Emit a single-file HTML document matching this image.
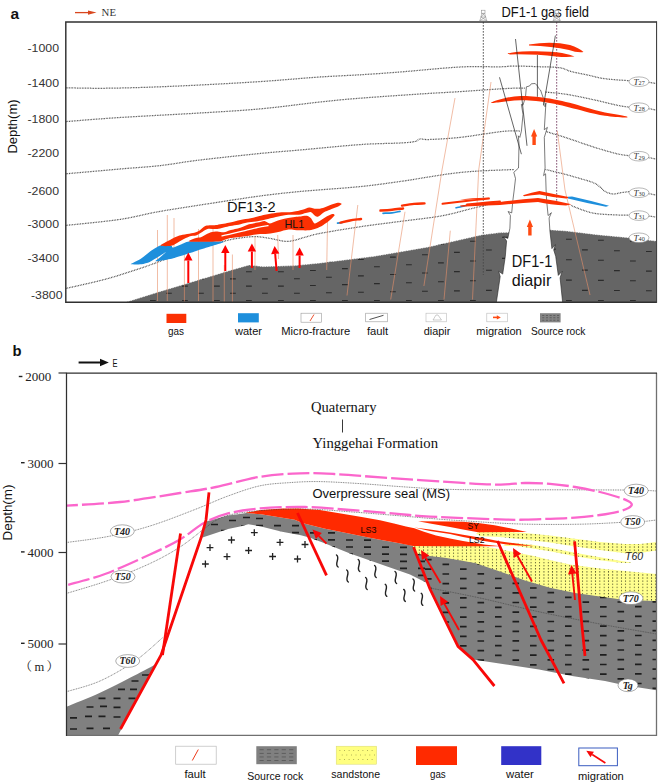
<!DOCTYPE html>
<html lang="en"><head><meta charset="utf-8"><title>Gas migration and accumulation models</title>
<style>
html,body{margin:0;padding:0;background:#fff;}
body{width:667px;height:784px;overflow:hidden;font-family:"Liberation Sans",sans-serif;}
svg{display:block;}
.sans{font-family:"Liberation Sans",sans-serif;}
.serif{font-family:"Liberation Serif",serif;}
</style></head><body>
<svg width="667" height="784" viewBox="0 0 667 784">
<defs>
<pattern id="pa" width="32" height="15" patternUnits="userSpaceOnUse" patternTransform="rotate(-4)">
<rect width="32" height="15" fill="#686868"/>
<rect x="3" y="3" width="6" height="1.2" fill="#2e2e2e"/>
<rect x="19" y="10.5" width="6" height="1.2" fill="#2e2e2e"/>
</pattern>
<pattern id="pb" width="19" height="15" patternUnits="userSpaceOnUse" patternTransform="rotate(6)">
<rect width="19" height="15" fill="#808080"/>
<rect x="2" y="3" width="7.5" height="1.5" fill="#222"/>
<rect x="11.5" y="10.5" width="7.5" height="1.5" fill="#222"/>
</pattern>
<pattern id="py" width="4.3" height="3.1" patternUnits="userSpaceOnUse">
<rect width="4.3" height="3.1" fill="#ffff8e"/>
<rect x="1.7" y="0.8" width="0.9" height="1.3" fill="#4a4a26"/>
</pattern>
<clipPath id="ca"><rect x="66" y="22" width="590" height="280"/></clipPath>
<clipPath id="cb"><rect x="66.5" y="373" width="590" height="362"/></clipPath>
</defs>
<rect width="667" height="784" fill="#fff"/>

<g id="panelA" clip-path="url(#ca)">
<clipPath id="cga"><path d="M126.3,302.0 L160.0,291.5 L200.0,279.5 L228.0,271.0 L249.0,265.0 L263.0,266.6 L294.5,265.6 L320.0,263.0 L374.0,256.3 L428.0,247.0 L482.0,234.8 L500.0,232.6 L512.0,232.3 L512.0,302.0Z"/><path d="M546.0,229.5 L567.0,231.0 L597.6,234.7 L630.0,237.8 L656.0,241.0 L656.0,302.0 L546.0,302.0Z"/></clipPath>
<path d="M126.3,302.0 L160.0,291.5 L200.0,279.5 L228.0,271.0 L249.0,265.0 L263.0,266.6 L294.5,265.6 L320.0,263.0 L374.0,256.3 L428.0,247.0 L482.0,234.8 L500.0,232.6 L512.0,232.3 L512.0,302.0Z" fill="#656565"/><path d="M546.0,229.5 L567.0,231.0 L597.6,234.7 L630.0,237.8 L656.0,241.0 L656.0,302.0 L546.0,302.0Z" fill="#656565"/>
<path d="M86.0,329.3h5.8M118.0,329.3h5.8M150.0,329.3h5.8M182.0,329.3h5.8M214.0,329.3h5.8M246.0,329.3h5.8M278.0,329.3h5.8M310.0,330.5h5.8M342.0,332.4h5.8M374.0,334.3h5.8M406.0,336.2h5.8M438.0,338.1h5.8M470.0,340.0h5.8M502.0,342.6h5.8M534.0,342.0h5.8M566.0,341.3h5.8M598.0,340.7h5.8M630.0,340.0h5.8M662.0,339.4h5.8M694.0,338.7h5.8M726.0,338.0h5.8M758.0,337.4h5.8M790.0,336.7h5.8M102.0,322.1h5.8M134.0,322.1h5.8M166.0,322.1h5.8M198.0,322.1h5.8M230.0,322.1h5.8M262.0,322.1h5.8M294.0,322.3h5.8M326.0,323.7h5.8M358.0,325.1h5.8M390.0,326.5h5.8M422.0,328.0h5.8M454.0,329.4h5.8M486.0,330.8h5.8M518.0,331.9h5.8M550.0,331.4h5.8M582.0,330.9h5.8M614.0,330.4h5.8M646.0,329.9h5.8M678.0,329.4h5.8M710.0,328.9h5.8M742.0,328.4h5.8M774.0,327.9h5.8M806.0,327.4h5.8M86.0,314.9h5.8M118.0,314.9h5.8M150.0,314.9h5.8M182.0,314.9h5.8M214.0,314.9h5.8M246.0,314.9h5.8M278.0,314.9h5.8M310.0,315.5h5.8M342.0,316.4h5.8M374.0,317.4h5.8M406.0,318.3h5.8M438.0,319.3h5.8M470.0,320.2h5.8M502.0,321.6h5.8M534.0,321.2h5.8M566.0,320.9h5.8M598.0,320.6h5.8M630.0,320.3h5.8M662.0,319.9h5.8M694.0,319.6h5.8M726.0,319.3h5.8M758.0,318.9h5.8M790.0,318.6h5.8M102.0,307.7h5.8M134.0,307.7h5.8M166.0,307.7h5.8M198.0,307.7h5.8M230.0,307.7h5.8M262.0,307.7h5.8M294.0,307.8h5.8M326.0,308.2h5.8M358.0,308.7h5.8M390.0,309.2h5.8M422.0,309.7h5.8M454.0,310.1h5.8M486.0,310.6h5.8M518.0,311.0h5.8M550.0,310.8h5.8M582.0,310.6h5.8M614.0,310.5h5.8M646.0,310.3h5.8M678.0,310.1h5.8M710.0,310.0h5.8M742.0,309.8h5.8M774.0,309.6h5.8M806.0,309.5h5.8M86.0,300.5h5.8M118.0,300.5h5.8M150.0,300.5h5.8M182.0,300.5h5.8M214.0,300.5h5.8M246.0,300.5h5.8M278.0,300.5h5.8M310.0,300.5h5.8M342.0,300.5h5.8M374.0,300.5h5.8M406.0,300.5h5.8M438.0,300.5h5.8M470.0,300.5h5.8M502.0,300.5h5.8M534.0,300.5h5.8M566.0,300.5h5.8M598.0,300.5h5.8M630.0,300.5h5.8M662.0,300.5h5.8M694.0,300.5h5.8M726.0,300.5h5.8M758.0,300.5h5.8M790.0,300.5h5.8M102.0,293.3h5.8M134.0,293.3h5.8M166.0,293.3h5.8M198.0,293.3h5.8M230.0,293.3h5.8M262.0,293.3h5.8M294.0,293.2h5.8M326.0,292.8h5.8M358.0,292.3h5.8M390.0,291.8h5.8M422.0,291.3h5.8M454.0,290.9h5.8M486.0,290.4h5.8M518.0,290.0h5.8M550.0,290.2h5.8M582.0,290.4h5.8M614.0,290.5h5.8M646.0,290.7h5.8M678.0,290.9h5.8M710.0,291.0h5.8M742.0,291.2h5.8M774.0,291.4h5.8M806.0,291.5h5.8M86.0,286.1h5.8M118.0,286.1h5.8M150.0,286.1h5.8M182.0,286.1h5.8M214.0,286.1h5.8M246.0,286.1h5.8M278.0,286.1h5.8M310.0,285.5h5.8M342.0,284.6h5.8M374.0,283.6h5.8M406.0,282.7h5.8M438.0,281.7h5.8M470.0,280.8h5.8M502.0,279.4h5.8M534.0,279.8h5.8M566.0,280.1h5.8M598.0,280.4h5.8M630.0,280.7h5.8M662.0,281.1h5.8M694.0,281.4h5.8M726.0,281.7h5.8M758.0,282.1h5.8M790.0,282.4h5.8M102.0,278.9h5.8M134.0,278.9h5.8M166.0,278.9h5.8M198.0,278.9h5.8M230.0,278.9h5.8M262.0,278.9h5.8M294.0,278.7h5.8M326.0,277.3h5.8M358.0,275.9h5.8M390.0,274.5h5.8M422.0,273.0h5.8M454.0,271.6h5.8M486.0,270.2h5.8M518.0,269.1h5.8M550.0,269.6h5.8M582.0,270.1h5.8M614.0,270.6h5.8M646.0,271.1h5.8M678.0,271.6h5.8M710.0,272.1h5.8M742.0,272.6h5.8M774.0,273.1h5.8M806.0,273.6h5.8M86.0,271.7h5.8M118.0,271.7h5.8M150.0,271.7h5.8M182.0,271.7h5.8M214.0,271.7h5.8M246.0,271.7h5.8M278.0,271.7h5.8M310.0,270.5h5.8M342.0,268.6h5.8M374.0,266.7h5.8M406.0,264.8h5.8M438.0,262.9h5.8M470.0,261.0h5.8M502.0,258.4h5.8M534.0,259.0h5.8M566.0,259.7h5.8M598.0,260.3h5.8M630.0,261.0h5.8M662.0,261.6h5.8M694.0,262.3h5.8M726.0,263.0h5.8M758.0,263.6h5.8M790.0,264.3h5.8M102.0,264.5h5.8M134.0,264.5h5.8M166.0,264.5h5.8M198.0,264.5h5.8M230.0,264.5h5.8M262.0,264.5h5.8M294.0,264.2h5.8M326.0,261.8h5.8M358.0,259.5h5.8M390.0,257.1h5.8M422.0,254.7h5.8M454.0,252.4h5.8M486.0,250.0h5.8M518.0,248.2h5.8M550.0,249.1h5.8M582.0,249.9h5.8M614.0,250.7h5.8M646.0,251.5h5.8M678.0,252.3h5.8M710.0,253.2h5.8M742.0,254.0h5.8M774.0,254.8h5.8M806.0,255.6h5.8M86.0,257.3h5.8M118.0,257.3h5.8M150.0,257.3h5.8M182.0,257.3h5.8M214.0,257.3h5.8M246.0,257.3h5.8M278.0,257.3h5.8M310.0,255.5h5.8M342.0,252.7h5.8M374.0,249.8h5.8M406.0,247.0h5.8M438.0,244.1h5.8M470.0,241.3h5.8M502.0,237.3h5.8M534.0,238.3h5.8M566.0,239.3h5.8M598.0,240.2h5.8M630.0,241.2h5.8M662.0,242.2h5.8M694.0,243.2h5.8M726.0,244.2h5.8M758.0,245.2h5.8M790.0,246.2h5.8M102.0,250.1h5.8M134.0,250.1h5.8M166.0,250.1h5.8M198.0,250.1h5.8M230.0,250.1h5.8M262.0,250.1h5.8M294.0,249.7h5.8M326.0,246.4h5.8M358.0,243.0h5.8M390.0,239.7h5.8M422.0,236.4h5.8M454.0,233.1h5.8M486.0,229.8h5.8M518.0,227.3h5.8M550.0,228.5h5.8M582.0,229.6h5.8M614.0,230.8h5.8M646.0,231.9h5.8M678.0,233.1h5.8M710.0,234.2h5.8M742.0,235.4h5.8M774.0,236.5h5.8M806.0,237.7h5.8M86.0,242.9h5.8M118.0,242.9h5.8M150.0,242.9h5.8M182.0,242.9h5.8M214.0,242.9h5.8M246.0,242.9h5.8M278.0,242.9h5.8M310.0,240.5h5.8M342.0,236.7h5.8M374.0,232.9h5.8M406.0,229.2h5.8M438.0,225.4h5.8M470.0,221.6h5.8M502.0,216.2h5.8M534.0,217.5h5.8M566.0,218.8h5.8M598.0,220.2h5.8M630.0,221.5h5.8M662.0,222.8h5.8M694.0,224.1h5.8M726.0,225.4h5.8M758.0,226.7h5.8M790.0,228.1h5.8M102.0,235.7h5.8M134.0,235.7h5.8M166.0,235.7h5.8M198.0,235.7h5.8M230.0,235.7h5.8M262.0,235.7h5.8M294.0,235.2h5.8M326.0,231.4h5.8M358.0,227.5h5.8M390.0,223.7h5.8M422.0,219.9h5.8M454.0,216.0h5.8M486.0,212.2h5.8M518.0,209.2h5.8M550.0,210.7h5.8M582.0,212.2h5.8M614.0,213.6h5.8M646.0,215.1h5.8M678.0,216.6h5.8M710.0,218.1h5.8M742.0,219.6h5.8M774.0,221.1h5.8M806.0,222.5h5.8M86.0,228.5h5.8M118.0,228.5h5.8M150.0,228.5h5.8M182.0,228.5h5.8M214.0,228.5h5.8M246.0,228.5h5.8M278.0,228.5h5.8M310.0,226.1h5.8M342.0,222.3h5.8M374.0,218.4h5.8M406.0,214.6h5.8M438.0,210.7h5.8M470.0,206.9h5.8M502.0,201.1h5.8M534.0,202.7h5.8M566.0,204.3h5.8M598.0,205.9h5.8M630.0,207.5h5.8M662.0,209.1h5.8M694.0,210.7h5.8M726.0,212.3h5.8M758.0,213.9h5.8M790.0,215.5h5.8M102.0,221.3h5.8M134.0,221.3h5.8M166.0,221.3h5.8M198.0,221.3h5.8M230.0,221.3h5.8M262.0,221.3h5.8M294.0,220.8h5.8M326.0,217.0h5.8M358.0,213.1h5.8M390.0,209.3h5.8M422.0,205.5h5.8M454.0,201.6h5.8M486.0,197.8h5.8M518.0,194.7h5.8M550.0,196.3h5.8M582.0,197.9h5.8M614.0,199.5h5.8M646.0,201.1h5.8M678.0,202.7h5.8M710.0,204.3h5.8M742.0,205.9h5.8M774.0,207.5h5.8M806.0,209.1h5.8M86.0,214.1h5.8M118.0,214.1h5.8M150.0,214.1h5.8M182.0,214.1h5.8M214.0,214.1h5.8M246.0,214.1h5.8M278.0,214.1h5.8M310.0,211.7h5.8M342.0,207.9h5.8M374.0,204.0h5.8M406.0,200.2h5.8M438.0,196.3h5.8M470.0,192.5h5.8M502.0,186.7h5.8M534.0,188.3h5.8M566.0,189.9h5.8M598.0,191.5h5.8M630.0,193.1h5.8M662.0,194.7h5.8M694.0,196.3h5.8M726.0,197.9h5.8M758.0,199.5h5.8M790.0,201.1h5.8M102.0,206.9h5.8M134.0,206.9h5.8M166.0,206.9h5.8M198.0,206.9h5.8M230.0,206.9h5.8M262.0,206.9h5.8M294.0,206.4h5.8M326.0,202.6h5.8M358.0,198.7h5.8M390.0,194.9h5.8M422.0,191.1h5.8M454.0,187.2h5.8M486.0,183.4h5.8M518.0,180.3h5.8M550.0,181.9h5.8M582.0,183.5h5.8M614.0,185.1h5.8M646.0,186.7h5.8M678.0,188.3h5.8M710.0,189.9h5.8M742.0,191.5h5.8M774.0,193.1h5.8M806.0,194.7h5.8M86.0,199.7h5.8M118.0,199.7h5.8M150.0,199.7h5.8M182.0,199.7h5.8M214.0,199.7h5.8M246.0,199.7h5.8M278.0,199.7h5.8M310.0,197.3h5.8M342.0,193.5h5.8M374.0,189.6h5.8M406.0,185.8h5.8M438.0,181.9h5.8M470.0,178.1h5.8M502.0,172.3h5.8M534.0,173.9h5.8M566.0,175.5h5.8M598.0,177.1h5.8M630.0,178.7h5.8M662.0,180.3h5.8M694.0,181.9h5.8M726.0,183.5h5.8M758.0,185.1h5.8M790.0,186.7h5.8M102.0,192.5h5.8M134.0,192.5h5.8M166.0,192.5h5.8M198.0,192.5h5.8M230.0,192.5h5.8M262.0,192.5h5.8M294.0,192.0h5.8M326.0,188.2h5.8M358.0,184.3h5.8M390.0,180.5h5.8M422.0,176.7h5.8M454.0,172.8h5.8M486.0,169.0h5.8M518.0,165.9h5.8M550.0,167.5h5.8M582.0,169.1h5.8M614.0,170.7h5.8M646.0,172.3h5.8M678.0,173.9h5.8M710.0,175.5h5.8M742.0,177.1h5.8M774.0,178.7h5.8M806.0,180.3h5.8" stroke="#2b2b2b" stroke-width="1.1" fill="none" clip-path="url(#cga)"/>
<path d="M126.3,302.0 L160.0,291.5 L200.0,279.5 L228.0,271.0 L249.0,265.0 L263.0,266.6 L294.5,265.6 L320.0,263.0 L374.0,256.3 L428.0,247.0 L482.0,234.8 L500.0,232.6 L512.0,232.3" fill="none" stroke="#fff" stroke-width="1" stroke-dasharray="0.8 0.9"/>
<path d="M546.0,229.5 L567.0,231.0 L597.6,234.7 L630.0,237.8 L656.0,241.0" fill="none" stroke="#fff" stroke-width="1" stroke-dasharray="0.8 0.9"/>
<path d="M66.0,87.8 C71.7,87.9 87.7,88.3 100.0,88.3 C112.3,88.2 123.3,88.0 140.0,87.5 C156.7,87.0 180.0,86.0 200.0,85.0 C220.0,84.0 240.0,82.9 260.0,81.6 C280.0,80.3 303.3,78.1 320.0,77.0 C336.7,75.9 346.7,75.6 360.0,74.8 C373.3,74.0 383.3,73.3 400.0,72.0 C416.7,70.7 443.3,67.9 460.0,67.0 C476.7,66.1 491.0,67.0 500.0,66.8 C509.0,66.6 508.2,66.0 514.0,66.0 C519.8,66.0 527.5,66.3 535.0,66.6 C542.5,66.9 552.7,66.8 558.8,67.6 C564.9,68.4 566.5,70.3 571.4,71.6 C576.3,72.8 582.4,73.9 588.0,75.1 C593.6,76.3 597.8,77.8 605.0,78.7 C612.2,79.7 626.7,80.5 631.0,80.8" fill="none" stroke="#3a3a3a" stroke-width="1.25" stroke-dasharray="0.75 0.85"/>
<path d="M66.0,121.6 C75.0,120.9 97.7,118.9 120.0,117.5 C142.3,116.1 176.7,114.4 200.0,113.0 C223.3,111.6 240.0,110.7 260.0,108.9 C280.0,107.1 303.3,103.8 320.0,102.0 C336.7,100.2 343.3,99.5 360.0,98.2 C376.7,96.9 403.3,95.1 420.0,94.0 C436.7,92.9 445.8,92.5 460.0,91.6 C474.2,90.7 494.2,89.2 505.0,88.6 C515.8,88.0 521.7,88.1 525.0,88.0" fill="none" stroke="#3a3a3a" stroke-width="1.25" stroke-dasharray="0.75 0.85"/>
<path d="M545.0,92.0 C548.7,92.4 559.1,93.2 567.0,94.4 C574.9,95.7 584.0,97.7 592.5,99.5 C601.0,101.3 611.6,104.1 618.0,105.4 C624.4,106.7 628.8,107.1 631.0,107.4" fill="none" stroke="#3a3a3a" stroke-width="1.25" stroke-dasharray="0.75 0.85"/>
<path d="M66.0,173.8 C75.0,173.0 104.3,170.4 120.0,169.0 C135.7,167.6 146.7,167.1 160.0,165.6 C173.3,164.1 183.3,162.0 200.0,160.0 C216.7,158.0 243.3,155.2 260.0,153.5 C276.7,151.8 283.3,151.5 300.0,150.0 C316.7,148.5 343.3,145.8 360.0,144.6 C376.7,143.4 390.8,143.5 400.0,143.0 C409.2,142.5 411.7,142.2 415.0,141.5 C418.3,140.8 417.5,139.3 420.0,139.0 C422.5,138.7 423.3,139.8 430.0,139.5 C436.7,139.2 448.0,138.7 460.0,137.4 C472.0,136.1 492.0,132.6 502.0,131.5 C512.0,130.4 517.0,131.1 520.0,131.0" fill="none" stroke="#3a3a3a" stroke-width="1.25" stroke-dasharray="0.75 0.85"/>
<path d="M546.0,131.5 C549.5,132.6 559.2,135.5 567.0,138.0 C574.8,140.5 584.0,144.0 592.5,146.7 C601.0,149.4 611.6,152.5 618.0,154.0 C624.4,155.5 628.8,155.5 631.0,155.8" fill="none" stroke="#3a3a3a" stroke-width="1.25" stroke-dasharray="0.75 0.85"/>
<path d="M66.0,225.4 C75.0,224.4 104.5,221.7 120.0,219.4 C135.5,217.1 144.0,214.2 159.0,211.6 C174.0,208.9 193.2,206.1 210.0,203.5 C226.8,200.9 245.0,198.0 260.0,196.0 C275.0,194.0 283.3,193.1 300.0,191.5 C316.7,189.9 343.3,188.3 360.0,186.6 C376.7,184.9 383.3,183.8 400.0,181.5 C416.7,179.2 441.0,174.5 460.0,172.5 C479.0,170.5 505.0,170.0 514.0,169.5" fill="none" stroke="#3a3a3a" stroke-width="1.25" stroke-dasharray="0.75 0.85"/>
<path d="M545.5,169.5 C549.1,170.4 559.2,172.7 567.0,174.8 C574.8,177.0 587.0,180.4 592.5,182.4 C598.0,184.4 597.9,185.5 600.0,187.0 C602.1,188.5 602.8,190.2 605.0,191.4 C607.2,192.6 610.2,193.8 613.0,194.0 C615.8,194.2 619.0,192.9 622.0,192.5 C625.0,192.1 629.5,191.6 631.0,191.4" fill="none" stroke="#3a3a3a" stroke-width="1.25" stroke-dasharray="0.75 0.85"/>
<path d="M66.0,288.4 C73.0,286.8 94.0,282.4 108.0,278.5 C122.0,274.6 137.0,269.5 150.0,265.0 C163.0,260.5 173.5,255.5 186.0,251.5 C198.5,247.5 216.4,243.2 225.0,241.0 C233.6,238.8 232.9,239.0 237.8,238.3 C242.7,237.6 249.3,236.6 254.6,236.6 C259.9,236.6 263.7,237.5 269.3,238.3 C274.9,239.1 282.1,241.6 288.0,241.4 C293.9,241.2 299.7,238.5 305.0,237.2 C310.3,235.9 310.8,235.2 320.0,233.4 C329.2,231.7 347.0,228.7 360.5,226.7 C374.0,224.7 387.5,223.1 401.0,221.3 C414.5,219.5 429.9,218.0 441.4,215.9 C452.9,213.8 461.9,211.0 470.0,209.0 C478.1,207.0 486.7,204.8 490.0,204.0" fill="none" stroke="#3a3a3a" stroke-width="1.25" stroke-dasharray="0.75 0.85"/>
<path d="M571.0,205.5 C574.6,206.8 584.7,211.4 592.5,213.0 C600.3,214.6 611.6,214.6 618.0,215.0 C624.4,215.4 628.8,215.2 631.0,215.2" fill="none" stroke="#3a3a3a" stroke-width="1.25" stroke-dasharray="0.75 0.85"/>
<path d="M648,82.2 L656,83.5" fill="none" stroke="#3a3a3a" stroke-width="1.25" stroke-dasharray="0.75 0.85"/>
<path d="M648,108.5 L656,110" fill="none" stroke="#3a3a3a" stroke-width="1.25" stroke-dasharray="0.75 0.85"/>
<path d="M648,157.5 L656,159" fill="none" stroke="#3a3a3a" stroke-width="1.25" stroke-dasharray="0.75 0.85"/>
<path d="M648,193.5 L656,195" fill="none" stroke="#3a3a3a" stroke-width="1.25" stroke-dasharray="0.75 0.85"/>
<path d="M648,216 L656,217" fill="none" stroke="#3a3a3a" stroke-width="1.25" stroke-dasharray="0.75 0.85"/>
<path d="M157.5,230 L157.5,301" stroke="#e8906a" stroke-width="0.6" fill="none"/>
<path d="M167.3,215 L167.3,301" stroke="#e8906a" stroke-width="0.6" fill="none"/>
<path d="M174,218 L174,250" stroke="#e8906a" stroke-width="0.6" fill="none"/>
<path d="M184.4,250 L184.4,302" stroke="#e8906a" stroke-width="0.6" fill="none"/>
<path d="M198.5,229 L198.5,301" stroke="#e8906a" stroke-width="0.6" fill="none"/>
<path d="M213,227.5 L213,302" stroke="#e8906a" stroke-width="0.6" fill="none"/>
<path d="M224.3,265 L224.3,302" stroke="#e8906a" stroke-width="0.6" fill="none"/>
<path d="M232.4,254.5 L232.4,302" stroke="#e8906a" stroke-width="0.6" fill="none"/>
<path d="M255,237 L255,270" stroke="#e8906a" stroke-width="0.6" fill="none"/>
<path d="M277.7,235 L278.5,259" stroke="#e8906a" stroke-width="0.6" fill="none"/>
<path d="M293,235 L293,270" stroke="#e8906a" stroke-width="0.6" fill="none"/>
<path d="M327.6,217 L326.7,270" stroke="#e8906a" stroke-width="0.6" fill="none"/>
<path d="M357.8,205 L347,295.5" stroke="#e8906a" stroke-width="0.6" fill="none"/>
<path d="M405,211.8 L390.7,299.5" stroke="#e8906a" stroke-width="0.6" fill="none"/>
<path d="M455,98 L442,170" stroke="#e8906a" stroke-width="0.6" fill="none"/>
<path d="M442,170 L423.9,286" stroke="#e8906a" stroke-width="0.6" fill="none"/>
<path d="M450.3,230.7 L444,299.5" stroke="#e8906a" stroke-width="0.6" fill="none"/>
<path d="M491,82 L478.7,170" stroke="#e8906a" stroke-width="0.6" fill="none"/>
<path d="M478.7,170 L472.5,299.5" stroke="#e8906a" stroke-width="0.6" fill="none"/>
<path d="M557.3,131 L565,190" stroke="#e8906a" stroke-width="0.6" fill="none"/>
<path d="M565,190 L590,295" stroke="#e8906a" stroke-width="0.6" fill="none"/>
<path d="M483.3,22 L483.3,275" stroke="#4a4a4a" stroke-width="0.9" stroke-dasharray="1.7 1.3" fill="none"/>
<path d="M556.7,22 L556.7,205" stroke="#7a4468" stroke-width="0.9" stroke-dasharray="1.7 1.3" fill="none"/>
<path d="M496.4,302.1 L500.2,276.6 L498.7,271.3 L502.7,274.1 L505.3,256.3 L506.6,241.0 L503.8,236.9 L507.8,238.4 L509.9,228.2 L510.4,215.5 L508.1,211.5 L511.7,212.9 L512.9,200.2 L514.2,190.0 L515.5,178.5 L513.8,172.3 L518.5,168.0 L519.0,143.5 L518.3,135.8 L519.8,137.4 L521.4,131.2 L523.0,114.4 L521.4,104.4 L523.0,105.2 L525.5,96.8 L526.4,86.8 L529.5,86.0 L531.3,83.8 L535.2,83.5 L537.5,86.0 L538.7,88.4 L540.5,90.0 L543.6,99.0 L543.9,105.2 L545.1,106.7 L545.9,103.0 L544.3,129.7 L547.4,127.4 L544.3,137.4 L545.1,168.0 L543.6,175.6 L545.6,173.8 L546.1,190.0 L546.6,200.2 L548.1,215.5 L551.4,212.7 L549.1,218.0 L549.9,230.8 L551.9,248.6 L555.4,244.6 L553.7,249.9 L555.7,256.3 L558.3,275.4 L562.1,271.3 L560.1,277.9 L562.6,302.1" fill="#fff" stroke="#222" stroke-width="0.6" stroke-linejoin="miter"/>
<path d="M131.6,263.6 C132.8,262.9 139.2,259.7 141.5,258.2 C143.8,256.7 149.2,252.0 151.4,250.5 C153.6,249.0 158.2,246.0 160.5,245.5 C162.8,245.0 169.8,245.6 171.2,245.8 C172.6,246.0 171.7,247.8 172.8,247.6 C173.9,247.4 179.1,245.1 181.0,244.4 C182.9,243.7 185.1,241.8 189.3,241.4 C193.5,241.1 213.3,241.3 217.3,241.4 C221.3,241.5 224.8,241.3 224.0,241.9 C223.2,242.5 213.9,245.3 210.8,246.3 C207.7,247.3 200.3,249.6 197.6,250.5 C194.9,251.4 190.4,252.9 187.7,253.8 C185.0,254.7 177.4,257.1 174.5,257.9 C171.6,258.7 165.2,259.9 163.0,260.3 C160.8,260.7 155.7,261.7 155.5,261.2 C155.3,260.7 160.1,257.3 161.3,256.2 C162.5,255.1 166.6,252.0 166.2,252.1 C165.8,252.2 159.9,255.8 158.0,257.0 C156.1,258.2 151.6,261.1 149.7,262.0 C147.8,262.9 143.6,264.0 141.5,264.3 C139.4,264.6 132.8,264.3 131.6,264.2 C130.4,264.1 130.4,264.3 131.6,263.6Z" fill="#1e8fdc"/>
<path d="M160.5,245.5 C160.3,244.7 167.5,241.3 170.0,240.0 C172.5,238.7 176.2,236.6 179.4,235.6 C182.6,234.6 191.7,233.5 194.3,232.8 C196.9,232.1 197.7,231.6 199.2,230.7 C200.7,229.8 203.4,226.5 205.8,225.7 C208.2,224.9 214.1,225.3 217.3,224.9 C220.5,224.5 226.9,223.3 230.0,222.6 C233.1,221.9 237.5,220.6 240.3,220.0 C243.1,219.4 247.9,218.9 250.7,218.3 C253.5,217.7 258.2,216.3 261.0,215.7 C263.8,215.1 268.6,214.1 271.4,213.6 C274.2,213.1 279.0,212.4 281.7,212.2 C284.4,212.0 289.2,212.2 292.0,211.9 C294.8,211.6 300.1,210.3 302.4,209.7 C304.7,209.1 307.5,207.5 309.3,207.4 C311.1,207.3 314.4,208.7 316.2,208.8 C318.0,208.9 320.9,208.5 323.0,207.9 C325.1,207.3 329.7,205.2 331.7,204.5 C333.7,203.8 336.5,202.9 337.8,202.8 C339.1,202.7 340.7,203.4 341.2,203.6 C341.7,203.8 341.8,204.0 341.2,204.5 C340.6,205.0 338.5,206.3 337.0,207.0 C335.5,207.7 331.7,209.0 330.0,209.7 C328.3,210.4 325.4,211.4 324.0,212.2 C322.6,213.0 320.7,215.1 319.7,215.7 C318.7,216.3 317.4,217.1 316.2,216.6 C315.0,216.1 312.4,212.7 311.0,212.2 C309.6,211.7 307.5,212.8 305.9,213.1 C304.3,213.4 301.3,214.6 299.0,214.8 C296.7,215.0 291.4,214.6 288.6,214.8 C285.8,215.0 281.0,216.0 278.3,216.6 C275.6,217.2 270.8,218.4 268.0,219.0 C265.2,219.6 260.4,220.7 257.6,221.2 C254.8,221.7 249.7,222.1 247.2,222.6 C244.7,223.1 240.9,224.2 238.6,224.7 C236.3,225.2 232.8,225.4 230.0,226.0 C227.2,226.6 220.3,228.6 217.3,229.0 C214.3,229.4 209.7,228.5 207.5,229.0 C205.3,229.5 202.4,231.9 200.9,232.8 C199.4,233.7 197.5,235.1 196.0,235.6 C194.5,236.1 191.5,235.6 189.3,236.4 C187.1,237.2 181.8,240.1 179.4,241.4 C177.0,242.7 173.7,245.3 171.2,245.8 C168.7,246.3 160.7,246.3 160.5,245.5Z" fill="#fb3003"/>
<path d="M189.3,241.6 C186.5,241.1 194.5,238.6 196.0,238.0 C197.5,237.4 199.8,237.6 200.9,237.3 C202.0,237.0 202.9,236.3 204.2,235.6 C205.5,234.9 209.1,232.8 210.8,232.3 C212.5,231.8 215.5,231.5 217.3,231.5 C219.1,231.5 222.3,232.5 224.0,232.3 C225.7,232.1 227.8,230.9 230.0,230.3 C232.2,229.7 237.8,228.6 240.3,227.8 C242.8,227.0 246.7,225.0 249.0,224.3 C251.3,223.6 255.5,223.1 257.6,222.6 C259.7,222.1 262.9,220.8 264.5,220.9 C266.1,221.0 268.1,223.4 269.7,223.4 C271.3,223.4 274.3,221.6 276.6,220.9 C278.9,220.2 283.9,218.9 286.9,218.3 C289.9,217.7 296.4,216.9 299.0,216.6 C301.6,216.3 305.1,215.5 306.7,215.7 C308.3,215.9 310.0,217.3 311.0,218.3 C312.0,219.3 313.3,223.1 314.5,223.4 C315.7,223.7 318.1,221.8 319.7,220.9 C321.3,220.0 324.9,217.5 326.6,216.6 C328.3,215.7 331.5,214.2 332.6,214.0 C333.7,213.8 334.3,214.6 334.5,214.8 C334.7,215.0 334.9,215.0 334.3,215.7 C333.7,216.4 331.5,218.7 330.0,220.0 C328.5,221.3 324.8,224.1 323.0,225.2 C321.2,226.3 318.0,227.9 316.2,228.6 C314.4,229.3 311.6,230.1 309.3,230.3 C307.0,230.5 301.8,230.4 299.0,230.3 C296.2,230.2 291.4,229.3 288.6,229.5 C285.8,229.7 281.0,231.4 278.3,232.0 C275.6,232.6 270.8,233.5 268.0,233.8 C265.2,234.1 260.4,234.0 257.6,234.3 C254.8,234.6 250.0,235.6 247.2,236.0 C244.4,236.4 239.2,236.9 236.9,237.2 C234.6,237.5 231.7,237.7 230.0,238.1 C228.3,238.5 225.7,239.5 224.0,240.0 C222.3,240.5 221.9,241.4 217.3,241.6 C212.7,241.8 192.1,242.1 189.3,241.6Z" fill="#fb3003"/>
<path d="M222.0,235.8 C223.7,235.4 228.2,234.5 232.0,233.6 C235.8,232.7 240.7,231.6 245.0,230.6 C249.3,229.6 254.2,228.2 258.0,227.4 C261.8,226.6 266.3,225.9 268.0,225.6" fill="none" stroke="#fff" stroke-width="1.3" stroke-linecap="round"/>
<path d="M337.6,223.2 L342.0,222.6" fill="none" stroke="#1e8fdc" stroke-width="1.8" stroke-linecap="round"/>
<path d="M340.5,222.6 C342.1,222.2 346.6,221.0 350.0,220.4 C353.4,219.8 359.2,219.2 361.0,218.9" fill="none" stroke="#fb3003" stroke-width="2.5" stroke-linecap="round"/>
<path d="M383.0,213.3 C384.5,213.2 389.2,213.1 392.0,212.8 C394.8,212.5 398.7,211.6 400.0,211.4" fill="none" stroke="#1e8fdc" stroke-width="1.7" stroke-linecap="round"/>
<path d="M380.5,210.6 C382.4,210.5 388.2,210.2 392.0,209.8 C395.8,209.4 401.2,208.6 403.0,208.4" fill="none" stroke="#fb3003" stroke-width="2.5" stroke-linecap="round"/>
<path d="M402.0,205.6 C404.0,205.3 410.2,204.3 414.0,203.9 C417.8,203.5 422.8,203.5 424.5,203.4" fill="none" stroke="#fb3003" stroke-width="2.4" stroke-linecap="round"/>
<path d="M456.0,207.8 C457.0,207.6 460.2,207.0 462.0,206.6 C463.8,206.2 466.2,205.4 467.0,205.2" fill="none" stroke="#1e8fdc" stroke-width="1.5" stroke-linecap="round"/>
<path d="M442.5,203.8 C446.4,203.3 458.2,201.9 466.0,201.0 C473.8,200.1 485.2,198.9 489.0,198.5" fill="none" stroke="#fb3003" stroke-width="1.9" stroke-linecap="round"/>
<path d="M467.0,204.4 C470.0,204.1 479.5,203.2 485.0,202.7 C490.5,202.2 497.5,201.7 500.0,201.5" fill="none" stroke="#fb3003" stroke-width="1.9" stroke-linecap="round"/>
<path d="M460,205.6 Q480,202.8 500,202 Q520,199.5 538,198 Q556,200.5 571.5,204.2 L566,205.6 Q550,204.8 538,202 Q520,203 500,205 Q480,205.8 461,206.8Z" fill="#fb3003"/>
<path d="M523,195.2 Q532,192.5 539.5,191 Q556,194.5 571,197.6 L566,198.6 Q552,197.4 539.5,194.6 Q532,195.4 524,196.3Z" fill="#fb3003"/>
<path d="M460,199.6 Q475.25,197.29999999999998 490.5,197.8 Q475.25,200.1 460,199.6Z" fill="#fb3003"/>
<path d="M568,196.8 L572,196.6 Q590,200.6 609,205.8 L606,206.7 Q588,203.4 568,198.4Z" fill="#1e8fdc"/>
<path d="M529,44.4 Q552,40.6 570,45 Q579,47.8 583.5,52 Q577,52.8 569,50 Q552,46 529,45.4Z" fill="#fb3003"/>
<path d="M507.5,53.6 Q512,51.6 530,51.2 Q550,50.8 562,53 Q571,54.8 574.5,56.6 Q566,57.6 556,56.4 Q536,54 510,54.4Z" fill="#fb3003"/>
<path d="M492.4,101.9 C494.5,101.1 500.6,99.0 505.3,98.0 C510.0,97.0 515.5,96.2 520.6,96.0 C525.7,95.8 530.4,96.2 536.0,96.8 C541.6,97.4 548.7,98.4 554.3,99.4 C559.9,100.4 564.5,101.5 569.6,102.8 C574.7,104.1 579.1,105.6 585.0,107.2 C590.9,108.8 598.2,110.9 605.0,112.4 C611.8,113.9 622.8,115.3 626.0,116.2 C629.2,117.1 627.5,117.7 624.0,117.6 C620.5,117.5 611.5,116.8 605.0,115.8 C598.5,114.8 590.9,112.8 585.0,111.4 C579.1,110.0 574.7,108.9 569.6,107.6 C564.5,106.3 559.9,104.9 554.3,103.8 C548.7,102.7 541.6,101.5 536.0,100.9 C530.4,100.3 525.7,100.1 520.6,100.2 C515.5,100.3 510.0,101.0 505.3,101.4 C500.6,101.9 494.8,102.8 492.6,102.9 C490.5,103.0 490.3,102.7 492.4,101.9Z" fill="#fb3003"/>
<path d="M515.5,39 L527,145.8" stroke="#222" stroke-width="0.7" fill="none"/>
<path d="M499.5,77.3 L521.4,154.2" stroke="#222" stroke-width="0.7" fill="none"/>
<path d="M537.4,55 L537.4,96.8" stroke="#222" stroke-width="0.7" fill="none"/>
<path d="M555.4,35.5 L543.6,105.2" stroke="#222" stroke-width="0.7" fill="none"/>
<path d="M534.1,129 L537.2,136.5 L535.8000000000001,136.5 L535.8000000000001,145 L532.4,145 L532.4,136.5 L531.0,136.5Z" fill="#ff4a12"/>
<path d="M529.9,219.6 L533.0,227.1 L531.6,227.1 L531.6,235.5 L528.1999999999999,235.5 L528.1999999999999,227.1 L526.8,227.1Z" fill="#ff4a12"/>
<path d="M188.3,283.0 L188.3,260.5" stroke="#ff0000" stroke-width="2" fill="none"/><path d="M188.3,252.5 L192.5,260.5 L184.1,260.5Z" fill="#ff0000"/>
<path d="M225.3,271.0 L225.3,253.0" stroke="#ff0000" stroke-width="2" fill="none"/><path d="M225.3,245.0 L229.5,253.0 L221.1,253.0Z" fill="#ff0000"/>
<path d="M251.9,268.0 L251.9,251.5" stroke="#ff0000" stroke-width="2" fill="none"/><path d="M251.9,243.5 L256.1,251.5 L247.7,251.5Z" fill="#ff0000"/>
<path d="M276.6,271.0 L275.2,254.0" stroke="#ff0000" stroke-width="2" fill="none"/><path d="M274.6,246.0 L279.4,253.6 L271.1,254.3Z" fill="#ff0000"/>
<path d="M299.6,268.0 L299.6,255.5" stroke="#ff0000" stroke-width="2" fill="none"/><path d="M299.6,247.5 L303.8,255.5 L295.4,255.5Z" fill="#ff0000"/>
<text x="226.9" y="211.6" class="sans" font-size="14.6" fill="#111" textLength="48.7" lengthAdjust="spacingAndGlyphs">DF13-2</text>
<text x="284.4" y="228.2" class="sans" font-size="11.6" fill="#111" textLength="19.9" lengthAdjust="spacingAndGlyphs">HL1</text>
<text x="511.8" y="267" class="sans" font-size="16.6" fill="#111" textLength="40.5" lengthAdjust="spacingAndGlyphs">DF1-1</text>
<text x="511.8" y="286.4" class="sans" font-size="16.6" fill="#111" textLength="39.5" lengthAdjust="spacingAndGlyphs">diapir</text>
</g>
<ellipse cx="639" cy="81.7" rx="10" ry="4.8" fill="#fff" stroke="#888" stroke-width="0.6"/>
<text x="633.6" y="84.7" class="serif" font-size="9" font-style="italic" fill="#333">T<tspan font-size="6.2" font-style="normal" dy="0.3">27</tspan></text>
<ellipse cx="639" cy="107.7" rx="10" ry="4.8" fill="#fff" stroke="#888" stroke-width="0.6"/>
<text x="633.6" y="110.7" class="serif" font-size="9" font-style="italic" fill="#333">T<tspan font-size="6.2" font-style="normal" dy="0.3">28</tspan></text>
<ellipse cx="639" cy="156.2" rx="10" ry="4.8" fill="#fff" stroke="#888" stroke-width="0.6"/>
<text x="633.6" y="159.2" class="serif" font-size="9" font-style="italic" fill="#333">T<tspan font-size="6.2" font-style="normal" dy="0.3">29</tspan></text>
<ellipse cx="639" cy="192.7" rx="10" ry="4.8" fill="#fff" stroke="#888" stroke-width="0.6"/>
<text x="633.6" y="195.7" class="serif" font-size="9" font-style="italic" fill="#333">T<tspan font-size="6.2" font-style="normal" dy="0.3">30</tspan></text>
<ellipse cx="639" cy="215.6" rx="10" ry="4.8" fill="#fff" stroke="#888" stroke-width="0.6"/>
<text x="633.6" y="218.6" class="serif" font-size="9" font-style="italic" fill="#333">T<tspan font-size="6.2" font-style="normal" dy="0.3">31</tspan></text>
<ellipse cx="639" cy="237.8" rx="10" ry="4.8" fill="#fff" stroke="#888" stroke-width="0.6"/>
<text x="633.6" y="240.8" class="serif" font-size="9" font-style="italic" fill="#333">T<tspan font-size="6.2" font-style="normal" dy="0.3">40</tspan></text>
<path d="M656.6,22 L65.8,22 L65.8,302.2 L656.6,302.2" fill="none" stroke="#303030" stroke-width="1.45" stroke-linejoin="miter"/><path d="M656.6,21.3 L656.6,302.9" stroke="#303030" stroke-width="1"/>
<text x="27.5" y="52.4" class="sans" font-size="11" fill="#333" textLength="31.5" lengthAdjust="spacingAndGlyphs">-1000</text>
<text x="27.5" y="86.9" class="sans" font-size="11" fill="#333" textLength="31.5" lengthAdjust="spacingAndGlyphs">-1400</text>
<text x="27.5" y="122.9" class="sans" font-size="11" fill="#333" textLength="31.5" lengthAdjust="spacingAndGlyphs">-1800</text>
<text x="27.5" y="157.4" class="sans" font-size="11" fill="#333" textLength="31.5" lengthAdjust="spacingAndGlyphs">-2200</text>
<text x="27.5" y="194.70000000000002" class="sans" font-size="11" fill="#333" textLength="31.5" lengthAdjust="spacingAndGlyphs">-2600</text>
<text x="27.5" y="228.1" class="sans" font-size="11" fill="#333" textLength="31.5" lengthAdjust="spacingAndGlyphs">-3000</text>
<text x="27.5" y="262.4" class="sans" font-size="11" fill="#333" textLength="31.5" lengthAdjust="spacingAndGlyphs">-3400</text>
<text x="31" y="298.9" class="sans" font-size="11" fill="#333" textLength="31.5" lengthAdjust="spacingAndGlyphs">-3800</text>
<text transform="translate(16.6,126.5) rotate(-90)" text-anchor="middle" class="sans" font-size="12.2" fill="#111" textLength="54" lengthAdjust="spacingAndGlyphs">Depth(m)</text>
<text x="10.6" y="19.2" class="sans" font-size="15.5" font-weight="bold" fill="#111">a</text>
<path d="M75,12.6 L90,12.6" stroke="#d8461e" stroke-width="1.3"/><path d="M96.5,12.6 L88,10.4 L88,14.8Z" fill="#d8461e"/>
<text x="101.6" y="16.2" class="serif" font-size="10.8" fill="#333">NE</text>
<text x="501.5" y="16.6" class="sans" font-size="14.6" fill="#111" textLength="87.5" lengthAdjust="spacingAndGlyphs">DF1-1 gas field</text>
<path d="M479.90000000000003,20.6 L482.0,13.2 L484.6,13.2 L486.7,20.6 M480.90000000000003,17 L485.7,17 M479.90000000000003,20.6 L485.7,17 M486.7,20.6 L480.90000000000003,17 M480.90000000000003,17 L484.6,13.2 M485.7,17 L482.0,13.2 M479.3,20.8 L487.3,20.8" stroke="#8a8a8a" stroke-width="0.55" fill="none"/>
<rect x="481.6" y="10.2" width="3.4" height="3" fill="#fff" stroke="#8a8a8a" stroke-width="0.55"/>
<path d="M553.3000000000001,20.6 L555.4000000000001,13.2 L558.0,13.2 L560.1,20.6 M554.3000000000001,17 L559.1,17 M553.3000000000001,20.6 L559.1,17 M560.1,20.6 L554.3000000000001,17 M554.3000000000001,17 L558.0,13.2 M559.1,17 L555.4000000000001,13.2 M552.7,20.8 L560.7,20.8" stroke="#8a8a8a" stroke-width="0.55" fill="none"/>
<rect x="555.0" y="10.2" width="3.4" height="3" fill="#fff" stroke="#8a8a8a" stroke-width="0.55"/>
<rect x="166.5" y="313.8" width="19.8" height="9.2" fill="#fb3003"/>
<rect x="238" y="313.2" width="20.8" height="9.2" fill="#1e8fdc"/>
<rect x="301" y="313.2" width="20.5" height="9" fill="#fff" stroke="#999" stroke-width="0.6"/><path d="M310,321 L314,314.5" stroke="#e8401a" stroke-width="0.9"/>
<rect x="365.7" y="313.2" width="21.6" height="8.6" fill="#fff" stroke="#999" stroke-width="0.6"/><path d="M369.5,319.5 L383.5,315.3" stroke="#222" stroke-width="0.8"/>
<rect x="426" y="313.2" width="20.6" height="8.6" fill="#fff" stroke="#bbb" stroke-width="0.6"/><path d="M433,320 L436,315 L438,315 L441.5,320Z" stroke="#999" stroke-width="0.5" fill="none"/>
<rect x="486.8" y="313.2" width="20.6" height="8.6" fill="#fff" stroke="#bbb" stroke-width="0.6"/><path d="M493,317.4 L497.5,317.4" stroke="#ff4a12" stroke-width="1.6"/><path d="M500.8,317.4 L496.8,315.2 L496.8,319.6Z" fill="#ff4a12"/>
<rect x="540" y="313.2" width="20.6" height="9.2" fill="#848484"/>
<rect x="542.2" y="315.0" width="2.1" height="0.8" fill="#555"/>
<rect x="545.9" y="315.0" width="2.1" height="0.8" fill="#555"/>
<rect x="549.6" y="315.0" width="2.1" height="0.8" fill="#555"/>
<rect x="553.3" y="315.0" width="2.1" height="0.8" fill="#555"/>
<rect x="557.0" y="315.0" width="2.1" height="0.8" fill="#555"/>
<rect x="542.2" y="317.4" width="2.1" height="0.8" fill="#555"/>
<rect x="545.9" y="317.4" width="2.1" height="0.8" fill="#555"/>
<rect x="549.6" y="317.4" width="2.1" height="0.8" fill="#555"/>
<rect x="553.3" y="317.4" width="2.1" height="0.8" fill="#555"/>
<rect x="557.0" y="317.4" width="2.1" height="0.8" fill="#555"/>
<rect x="542.2" y="319.8" width="2.1" height="0.8" fill="#555"/>
<rect x="545.9" y="319.8" width="2.1" height="0.8" fill="#555"/>
<rect x="549.6" y="319.8" width="2.1" height="0.8" fill="#555"/>
<rect x="553.3" y="319.8" width="2.1" height="0.8" fill="#555"/>
<rect x="557.0" y="319.8" width="2.1" height="0.8" fill="#555"/>
<text x="168" y="335.3" class="sans" font-size="10.8" fill="#111" textLength="16" lengthAdjust="spacingAndGlyphs">gas</text>
<text x="235" y="335.3" class="sans" font-size="10.8" fill="#111" textLength="27" lengthAdjust="spacingAndGlyphs">water</text>
<text x="281.3" y="335.3" class="sans" font-size="10.8" fill="#111" textLength="69" lengthAdjust="spacingAndGlyphs">Micro-fracture</text>
<text x="366.9" y="335.3" class="sans" font-size="10.8" fill="#111" textLength="21.3" lengthAdjust="spacingAndGlyphs">fault</text>
<text x="423.8" y="335.3" class="sans" font-size="10.8" fill="#111" textLength="26.6" lengthAdjust="spacingAndGlyphs">diapir</text>
<text x="476.3" y="335.3" class="sans" font-size="10.8" fill="#111" textLength="45.4" lengthAdjust="spacingAndGlyphs">migration</text>
<text x="531" y="335.3" class="sans" font-size="10.8" fill="#111" textLength="54.4" lengthAdjust="spacingAndGlyphs">Source rock</text>
<g id="panelB" clip-path="url(#cb)">
<path d="M66.5,706.7 C72.1,704.4 89.4,697.5 100.0,692.7 C110.6,687.9 120.8,682.5 130.0,677.7 C139.2,673.0 150.2,667.7 155.2,664.2 C160.2,660.8 159.2,658.2 160.0,657.0 L118,735.5 L66.5,735.5Z" fill="#808080"/>
<path d="M206.0,521.5 L228.0,515.5 L240.0,513.9 L246.3,513.0 L261.0,514.3 L277.8,517.0 L294.6,519.8 L303.0,523.3 L324.0,528.6 L345.0,532.8 L366.0,537.0 L380.0,539.7 L398.0,543.0 L413.0,545.8 L416.0,553.0 L430.0,555.5 L445.0,557.2 L475.0,562.5 L500.0,570.8 L525.0,579.8 L550.0,587.2 L575.0,592.3 L600.0,596.0 L625.0,599.3 L656.5,600.5 L656.5,690.2 L624.7,685.3 L605.0,681.0 L572.0,676.0 L539.0,669.5 L506.0,664.5 L473.0,659.6 L458.0,646.4 L445.0,620.0 L430.0,589.0 L428.0,583.5 L410.0,574.5 L380.0,564.0 L350.0,553.5 L324.0,543.0 L309.3,537.4 L300.9,535.2 L282.0,531.7 L261.0,526.5 L248.4,524.2 L240.0,526.5 L228.0,529.0 L201.0,538.0Z" fill="#808080"/>
<clipPath id="cgb"><path d="M66.5,706.7 C72.1,704.4 89.4,697.5 100.0,692.7 C110.6,687.9 120.8,682.5 130.0,677.7 C139.2,673.0 150.2,667.7 155.2,664.2 C160.2,660.8 159.2,658.2 160.0,657.0 L118,735.5 L66.5,735.5Z"/><path d="M206.0,521.5 L228.0,515.5 L240.0,513.9 L246.3,513.0 L261.0,514.3 L277.8,517.0 L294.6,519.8 L303.0,523.3 L324.0,528.6 L345.0,532.8 L366.0,537.0 L380.0,539.7 L398.0,543.0 L413.0,545.8 L416.0,553.0 L430.0,555.5 L445.0,557.2 L475.0,562.5 L500.0,570.8 L525.0,579.8 L550.0,587.2 L575.0,592.3 L600.0,596.0 L625.0,599.3 L656.5,600.5 L656.5,690.2 L624.7,685.3 L605.0,681.0 L572.0,676.0 L539.0,669.5 L506.0,664.5 L473.0,659.6 L458.0,646.4 L445.0,620.0 L430.0,589.0 L428.0,583.5 L410.0,574.5 L380.0,564.0 L350.0,553.5 L324.0,543.0 L309.3,537.4 L300.9,535.2 L282.0,531.7 L261.0,526.5 L248.4,524.2 L240.0,526.5 L228.0,529.0 L201.0,538.0Z"/></clipPath>
<path d="M425.0,444.4h6.6M425.0,454.0h6.6M425.0,463.6h6.6M425.0,473.2h6.6M425.0,482.8h6.6M425.0,492.4h6.6M425.0,502.0h6.6M425.0,511.6h6.6M425.0,521.2h6.6M425.0,530.8h6.6M425.0,540.4h6.6M425.0,550.0h6.6M425.0,559.6h6.6M425.0,569.2h6.6M425.0,578.8h6.6M425.0,588.4h6.6M425.0,598.0h6.6M425.0,607.6h6.6M425.0,617.2h6.6M425.0,626.8h6.6M425.0,636.4h6.6M425.0,646.0h6.6M425.0,655.6h6.6M425.0,665.2h6.6M425.0,674.8h6.6M425.0,684.4h6.6M425.0,694.0h6.6M425.0,703.6h6.6M425.0,713.2h6.6M425.0,722.8h6.6M425.0,732.4h6.6M425.0,742.0h6.6M425.0,751.6h6.6M425.0,761.2h6.6M425.0,770.8h6.6M425.0,780.4h6.6M425.0,790.0h6.6M425.0,799.6h6.6M425.0,809.2h6.6M425.0,818.8h6.6M425.0,828.4h6.6M425.0,838.0h6.6M442.5,449.2h6.6M442.5,458.8h6.6M442.5,468.4h6.6M442.5,478.0h6.6M442.5,487.6h6.6M442.5,497.2h6.6M442.5,506.8h6.6M442.5,516.4h6.6M442.5,526.0h6.6M442.5,535.6h6.6M442.5,545.2h6.6M442.5,554.8h6.6M442.5,564.4h6.6M442.5,574.0h6.6M442.5,583.6h6.6M442.5,593.2h6.6M442.5,602.8h6.6M442.5,612.4h6.6M442.5,622.0h6.6M442.5,631.6h6.6M442.5,641.2h6.6M442.5,650.8h6.6M442.5,660.4h6.6M442.5,670.0h6.6M442.5,679.6h6.6M442.5,689.2h6.6M442.5,698.8h6.6M442.5,708.4h6.6M442.5,718.0h6.6M442.5,727.6h6.6M442.5,737.2h6.6M442.5,746.8h6.6M442.5,756.4h6.6M442.5,766.0h6.6M442.5,775.6h6.6M442.5,785.2h6.6M442.5,794.8h6.6M442.5,804.4h6.6M442.5,814.0h6.6M442.5,823.6h6.6M442.5,833.2h6.6M442.5,842.8h6.6M460.0,453.9h6.6M460.0,463.5h6.6M460.0,473.1h6.6M460.0,482.7h6.6M460.0,492.3h6.6M460.0,501.9h6.6M460.0,511.5h6.6M460.0,521.1h6.6M460.0,530.7h6.6M460.0,540.3h6.6M460.0,549.9h6.6M460.0,559.5h6.6M460.0,569.1h6.6M460.0,578.7h6.6M460.0,588.3h6.6M460.0,597.9h6.6M460.0,607.5h6.6M460.0,617.1h6.6M460.0,626.7h6.6M460.0,636.3h6.6M460.0,645.9h6.6M460.0,655.5h6.6M460.0,665.1h6.6M460.0,674.7h6.6M460.0,684.3h6.6M460.0,693.9h6.6M460.0,703.5h6.6M460.0,713.1h6.6M460.0,722.7h6.6M460.0,732.3h6.6M460.0,741.9h6.6M460.0,751.5h6.6M460.0,761.1h6.6M460.0,770.7h6.6M460.0,780.3h6.6M460.0,789.9h6.6M460.0,799.5h6.6M460.0,809.1h6.6M460.0,818.7h6.6M460.0,828.3h6.6M460.0,837.9h6.6M460.0,847.5h6.6M477.5,458.6h6.6M477.5,468.2h6.6M477.5,477.8h6.6M477.5,487.4h6.6M477.5,497.0h6.6M477.5,506.6h6.6M477.5,516.2h6.6M477.5,525.8h6.6M477.5,535.4h6.6M477.5,545.0h6.6M477.5,554.6h6.6M477.5,564.2h6.6M477.5,573.8h6.6M477.5,583.4h6.6M477.5,593.0h6.6M477.5,602.6h6.6M477.5,612.2h6.6M477.5,621.8h6.6M477.5,631.4h6.6M477.5,641.0h6.6M477.5,650.6h6.6M477.5,660.2h6.6M477.5,669.8h6.6M477.5,679.4h6.6M477.5,689.0h6.6M477.5,698.6h6.6M477.5,708.2h6.6M477.5,717.8h6.6M477.5,727.4h6.6M477.5,737.0h6.6M477.5,746.6h6.6M477.5,756.2h6.6M477.5,765.8h6.6M477.5,775.4h6.6M477.5,785.0h6.6M477.5,794.6h6.6M477.5,804.2h6.6M477.5,813.8h6.6M477.5,823.4h6.6M477.5,833.0h6.6M477.5,842.6h6.6M477.5,852.2h6.6M495.0,463.3h6.6M495.0,472.9h6.6M495.0,482.5h6.6M495.0,492.1h6.6M495.0,501.7h6.6M495.0,511.3h6.6M495.0,520.9h6.6M495.0,530.5h6.6M495.0,540.1h6.6M495.0,549.7h6.6M495.0,559.3h6.6M495.0,568.9h6.6M495.0,578.5h6.6M495.0,588.1h6.6M495.0,597.7h6.6M495.0,607.3h6.6M495.0,616.9h6.6M495.0,626.5h6.6M495.0,636.1h6.6M495.0,645.7h6.6M495.0,655.3h6.6M495.0,664.9h6.6M495.0,674.5h6.6M495.0,684.1h6.6M495.0,693.7h6.6M495.0,703.3h6.6M495.0,712.9h6.6M495.0,722.5h6.6M495.0,732.1h6.6M495.0,741.7h6.6M495.0,751.3h6.6M495.0,760.9h6.6M495.0,770.5h6.6M495.0,780.1h6.6M495.0,789.7h6.6M495.0,799.3h6.6M495.0,808.9h6.6M495.0,818.5h6.6M495.0,828.1h6.6M495.0,837.7h6.6M495.0,847.3h6.6M495.0,856.9h6.6M512.5,468.1h6.6M512.5,477.7h6.6M512.5,487.3h6.6M512.5,496.9h6.6M512.5,506.5h6.6M512.5,516.1h6.6M512.5,525.7h6.6M512.5,535.3h6.6M512.5,544.9h6.6M512.5,554.5h6.6M512.5,564.1h6.6M512.5,573.7h6.6M512.5,583.3h6.6M512.5,592.9h6.6M512.5,602.5h6.6M512.5,612.1h6.6M512.5,621.7h6.6M512.5,631.3h6.6M512.5,640.9h6.6M512.5,650.5h6.6M512.5,660.1h6.6M512.5,669.7h6.6M512.5,679.3h6.6M512.5,688.9h6.6M512.5,698.5h6.6M512.5,708.1h6.6M512.5,717.7h6.6M512.5,727.3h6.6M512.5,736.9h6.6M512.5,746.5h6.6M512.5,756.1h6.6M512.5,765.7h6.6M512.5,775.3h6.6M512.5,784.9h6.6M512.5,794.5h6.6M512.5,804.1h6.6M512.5,813.7h6.6M512.5,823.3h6.6M512.5,832.9h6.6M512.5,842.5h6.6M512.5,852.1h6.6M512.5,861.7h6.6M530.0,472.8h6.6M530.0,482.4h6.6M530.0,492.0h6.6M530.0,501.6h6.6M530.0,511.2h6.6M530.0,520.8h6.6M530.0,530.4h6.6M530.0,540.0h6.6M530.0,549.6h6.6M530.0,559.2h6.6M530.0,568.8h6.6M530.0,578.4h6.6M530.0,588.0h6.6M530.0,597.6h6.6M530.0,607.2h6.6M530.0,616.8h6.6M530.0,626.4h6.6M530.0,636.0h6.6M530.0,645.6h6.6M530.0,655.2h6.6M530.0,664.8h6.6M530.0,674.4h6.6M530.0,684.0h6.6M530.0,693.6h6.6M530.0,703.2h6.6M530.0,712.8h6.6M530.0,722.4h6.6M530.0,732.0h6.6M530.0,741.6h6.6M530.0,751.2h6.6M530.0,760.8h6.6M530.0,770.4h6.6M530.0,780.0h6.6M530.0,789.6h6.6M530.0,799.2h6.6M530.0,808.8h6.6M530.0,818.4h6.6M530.0,828.0h6.6M530.0,837.6h6.6M530.0,847.2h6.6M530.0,856.8h6.6M530.0,866.4h6.6M547.5,477.5h6.6M547.5,487.1h6.6M547.5,496.7h6.6M547.5,506.3h6.6M547.5,515.9h6.6M547.5,525.5h6.6M547.5,535.1h6.6M547.5,544.7h6.6M547.5,554.3h6.6M547.5,563.9h6.6M547.5,573.5h6.6M547.5,583.1h6.6M547.5,592.7h6.6M547.5,602.3h6.6M547.5,611.9h6.6M547.5,621.5h6.6M547.5,631.1h6.6M547.5,640.7h6.6M547.5,650.3h6.6M547.5,659.9h6.6M547.5,669.5h6.6M547.5,679.1h6.6M547.5,688.7h6.6M547.5,698.3h6.6M547.5,707.9h6.6M547.5,717.5h6.6M547.5,727.1h6.6M547.5,736.7h6.6M547.5,746.3h6.6M547.5,755.9h6.6M547.5,765.5h6.6M547.5,775.1h6.6M547.5,784.7h6.6M547.5,794.3h6.6M547.5,803.9h6.6M547.5,813.5h6.6M547.5,823.1h6.6M547.5,832.7h6.6M547.5,842.3h6.6M547.5,851.9h6.6M547.5,861.5h6.6M547.5,871.1h6.6M565.0,482.2h6.6M565.0,491.8h6.6M565.0,501.4h6.6M565.0,511.0h6.6M565.0,520.6h6.6M565.0,530.2h6.6M565.0,539.8h6.6M565.0,549.4h6.6M565.0,559.0h6.6M565.0,568.6h6.6M565.0,578.2h6.6M565.0,587.8h6.6M565.0,597.4h6.6M565.0,607.0h6.6M565.0,616.6h6.6M565.0,626.2h6.6M565.0,635.8h6.6M565.0,645.4h6.6M565.0,655.0h6.6M565.0,664.6h6.6M565.0,674.2h6.6M565.0,683.8h6.6M565.0,693.4h6.6M565.0,703.0h6.6M565.0,712.6h6.6M565.0,722.2h6.6M565.0,731.8h6.6M565.0,741.4h6.6M565.0,751.0h6.6M565.0,760.6h6.6M565.0,770.2h6.6M565.0,779.8h6.6M565.0,789.4h6.6M565.0,799.0h6.6M565.0,808.6h6.6M565.0,818.2h6.6M565.0,827.8h6.6M565.0,837.4h6.6M565.0,847.0h6.6M565.0,856.6h6.6M565.0,866.2h6.6M565.0,875.8h6.6M582.5,487.0h6.6M582.5,496.6h6.6M582.5,506.2h6.6M582.5,515.8h6.6M582.5,525.4h6.6M582.5,535.0h6.6M582.5,544.6h6.6M582.5,554.2h6.6M582.5,563.8h6.6M582.5,573.4h6.6M582.5,583.0h6.6M582.5,592.6h6.6M582.5,602.2h6.6M582.5,611.8h6.6M582.5,621.4h6.6M582.5,631.0h6.6M582.5,640.6h6.6M582.5,650.2h6.6M582.5,659.8h6.6M582.5,669.4h6.6M582.5,679.0h6.6M582.5,688.6h6.6M582.5,698.2h6.6M582.5,707.8h6.6M582.5,717.4h6.6M582.5,727.0h6.6M582.5,736.6h6.6M582.5,746.2h6.6M582.5,755.8h6.6M582.5,765.4h6.6M582.5,775.0h6.6M582.5,784.6h6.6M582.5,794.2h6.6M582.5,803.8h6.6M582.5,813.4h6.6M582.5,823.0h6.6M582.5,832.6h6.6M582.5,842.2h6.6M582.5,851.8h6.6M582.5,861.4h6.6M582.5,871.0h6.6M582.5,880.6h6.6M600.0,491.7h6.6M600.0,501.3h6.6M600.0,510.9h6.6M600.0,520.5h6.6M600.0,530.1h6.6M600.0,539.7h6.6M600.0,549.3h6.6M600.0,558.9h6.6M600.0,568.5h6.6M600.0,578.1h6.6M600.0,587.7h6.6M600.0,597.3h6.6M600.0,606.9h6.6M600.0,616.5h6.6M600.0,626.1h6.6M600.0,635.7h6.6M600.0,645.3h6.6M600.0,654.9h6.6M600.0,664.5h6.6M600.0,674.1h6.6M600.0,683.7h6.6M600.0,693.3h6.6M600.0,702.9h6.6M600.0,712.5h6.6M600.0,722.1h6.6M600.0,731.7h6.6M600.0,741.3h6.6M600.0,750.9h6.6M600.0,760.5h6.6M600.0,770.1h6.6M600.0,779.7h6.6M600.0,789.3h6.6M600.0,798.9h6.6M600.0,808.5h6.6M600.0,818.1h6.6M600.0,827.7h6.6M600.0,837.3h6.6M600.0,846.9h6.6M600.0,856.5h6.6M600.0,866.1h6.6M600.0,875.7h6.6M600.0,885.3h6.6M617.5,496.4h6.6M617.5,506.0h6.6M617.5,515.6h6.6M617.5,525.2h6.6M617.5,534.8h6.6M617.5,544.4h6.6M617.5,554.0h6.6M617.5,563.6h6.6M617.5,573.2h6.6M617.5,582.8h6.6M617.5,592.4h6.6M617.5,602.0h6.6M617.5,611.6h6.6M617.5,621.2h6.6M617.5,630.8h6.6M617.5,640.4h6.6M617.5,650.0h6.6M617.5,659.6h6.6M617.5,669.2h6.6M617.5,678.8h6.6M617.5,688.4h6.6M617.5,698.0h6.6M617.5,707.6h6.6M617.5,717.2h6.6M617.5,726.8h6.6M617.5,736.4h6.6M617.5,746.0h6.6M617.5,755.6h6.6M617.5,765.2h6.6M617.5,774.8h6.6M617.5,784.4h6.6M617.5,794.0h6.6M617.5,803.6h6.6M617.5,813.2h6.6M617.5,822.8h6.6M617.5,832.4h6.6M617.5,842.0h6.6M617.5,851.6h6.6M617.5,861.2h6.6M617.5,870.8h6.6M617.5,880.4h6.6M617.5,890.0h6.6M635.0,501.1h6.6M635.0,510.7h6.6M635.0,520.3h6.6M635.0,529.9h6.6M635.0,539.5h6.6M635.0,549.1h6.6M635.0,558.7h6.6M635.0,568.3h6.6M635.0,577.9h6.6M635.0,587.5h6.6M635.0,597.1h6.6M635.0,606.7h6.6M635.0,616.3h6.6M635.0,625.9h6.6M635.0,635.5h6.6M635.0,645.1h6.6M635.0,654.7h6.6M635.0,664.3h6.6M635.0,673.9h6.6M635.0,683.5h6.6M635.0,693.1h6.6M635.0,702.7h6.6M635.0,712.3h6.6M635.0,721.9h6.6M635.0,731.5h6.6M635.0,741.1h6.6M635.0,750.7h6.6M635.0,760.3h6.6M635.0,769.9h6.6M635.0,779.5h6.6M635.0,789.1h6.6M635.0,798.7h6.6M635.0,808.3h6.6M635.0,817.9h6.6M635.0,827.5h6.6M635.0,837.1h6.6M635.0,846.7h6.6M635.0,856.3h6.6M635.0,865.9h6.6M635.0,875.5h6.6M635.0,885.1h6.6M635.0,894.7h6.6M652.5,505.9h6.6M652.5,515.5h6.6M652.5,525.1h6.6M652.5,534.7h6.6M652.5,544.3h6.6M652.5,553.9h6.6M652.5,563.5h6.6M652.5,573.1h6.6M652.5,582.7h6.6M652.5,592.3h6.6M652.5,601.9h6.6M652.5,611.5h6.6M652.5,621.1h6.6M652.5,630.7h6.6M652.5,640.3h6.6M652.5,649.9h6.6M652.5,659.5h6.6M652.5,669.1h6.6M652.5,678.7h6.6M652.5,688.3h6.6M652.5,697.9h6.6M652.5,707.5h6.6M652.5,717.1h6.6M652.5,726.7h6.6M652.5,736.3h6.6M652.5,745.9h6.6M652.5,755.5h6.6M652.5,765.1h6.6M652.5,774.7h6.6M652.5,784.3h6.6M652.5,793.9h6.6M652.5,803.5h6.6M652.5,813.1h6.6M652.5,822.7h6.6M652.5,832.3h6.6M652.5,841.9h6.6M652.5,851.5h6.6M652.5,861.1h6.6M652.5,870.7h6.6M652.5,880.3h6.6M652.5,889.9h6.6M652.5,899.5h6.6M670.0,510.6h6.6M670.0,520.2h6.6M670.0,529.8h6.6M670.0,539.4h6.6M670.0,549.0h6.6M670.0,558.6h6.6M670.0,568.2h6.6M670.0,577.8h6.6M670.0,587.4h6.6M670.0,597.0h6.6M670.0,606.6h6.6M670.0,616.2h6.6M670.0,625.8h6.6M670.0,635.4h6.6M670.0,645.0h6.6M670.0,654.6h6.6M670.0,664.2h6.6M670.0,673.8h6.6M670.0,683.4h6.6M670.0,693.0h6.6M670.0,702.6h6.6M670.0,712.2h6.6M670.0,721.8h6.6M670.0,731.4h6.6M670.0,741.0h6.6M670.0,750.6h6.6M670.0,760.2h6.6M670.0,769.8h6.6M670.0,779.4h6.6M670.0,789.0h6.6M670.0,798.6h6.6M670.0,808.2h6.6M670.0,817.8h6.6M670.0,827.4h6.6M670.0,837.0h6.6M670.0,846.6h6.6M670.0,856.2h6.6M670.0,865.8h6.6M670.0,875.4h6.6M670.0,885.0h6.6M670.0,894.6h6.6M670.0,904.2h6.6M687.5,515.3h6.6M687.5,524.9h6.6M687.5,534.5h6.6M687.5,544.1h6.6M687.5,553.7h6.6M687.5,563.3h6.6M687.5,572.9h6.6M687.5,582.5h6.6M687.5,592.1h6.6M687.5,601.7h6.6M687.5,611.3h6.6M687.5,620.9h6.6M687.5,630.5h6.6M687.5,640.1h6.6M687.5,649.7h6.6M687.5,659.3h6.6M687.5,668.9h6.6M687.5,678.5h6.6M687.5,688.1h6.6M687.5,697.7h6.6M687.5,707.3h6.6M687.5,716.9h6.6M687.5,726.5h6.6M687.5,736.1h6.6M687.5,745.7h6.6M687.5,755.3h6.6M687.5,764.9h6.6M687.5,774.5h6.6M687.5,784.1h6.6M687.5,793.7h6.6M687.5,803.3h6.6M687.5,812.9h6.6M687.5,822.5h6.6M687.5,832.1h6.6M687.5,841.7h6.6M687.5,851.3h6.6M687.5,860.9h6.6M687.5,870.5h6.6M687.5,880.1h6.6M687.5,889.7h6.6M687.5,899.3h6.6M687.5,908.9h6.6M256.0,518.5h7M256.0,525.5h7M256.0,532.5h7M256.0,539.5h7M256.0,546.5h7M256.0,553.5h7M274.0,525.6h7M274.0,532.6h7M274.0,539.6h7M274.0,546.6h7M274.0,553.6h7M274.0,560.6h7M292.0,525.7h7M292.0,532.7h7M292.0,539.7h7M292.0,546.7h7M292.0,553.7h7M292.0,560.7h7M310.0,532.8h7M310.0,539.8h7M310.0,546.8h7M310.0,553.8h7M310.0,560.8h7M310.0,567.8h7M328.0,532.9h7M328.0,539.9h7M328.0,546.9h7M328.0,553.9h7M328.0,560.9h7M328.0,567.9h7M346.0,540.0h7M346.0,547.0h7M346.0,554.0h7M346.0,561.0h7M346.0,568.0h7M346.0,575.0h7M364.0,540.1h7M364.0,547.1h7M364.0,554.1h7M364.0,561.1h7M364.0,568.1h7M364.0,575.1h7M382.0,547.2h7M382.0,554.2h7M382.0,561.2h7M382.0,568.2h7M382.0,575.2h7M382.0,582.2h7M400.0,547.3h7M400.0,554.3h7M400.0,561.3h7M400.0,568.3h7M400.0,575.3h7M400.0,582.3h7M418.0,554.4h7M418.0,561.4h7M418.0,568.4h7M418.0,575.4h7M418.0,582.4h7M418.0,589.4h7M211.0,524.5h7M221.0,530.5h7M229.0,520.5h7M241.0,526.0h7M243.0,517.5h7M70.0,729.0h7M86.5,728.3h7M103.0,728.3h7M70.0,717.8h7M85.0,716.3h7M98.5,716.3h7M113.5,717.0h7M86.5,707.0h7M100.0,706.4h7M113.5,707.3h7M98.5,698.4h7M113.5,698.4h7M128.5,698.4h7M118.0,689.4h7M130.0,689.4h7M131.5,681.0h7M142.0,675.0h7" stroke="#1e1e1e" stroke-width="1.7" fill="none" clip-path="url(#cgb)"/>
<path d="M413.0,545.6 L440.0,545.8 L480.0,546.0 L498.0,548.8 L516.0,552.4 L534.0,556.0 L552.0,560.5 L570.0,564.6 L600.0,568.4 L630.0,571.6 L656.5,574.0 L656.5,601.1 L625.0,599.9 L600.0,596.6 L575.0,592.9 L550.0,587.8 L525.0,580.4 L500.0,571.4 L475.0,563.1 L445.0,557.8 L430.0,556.1 L416.0,553.6 L413.0,546.2Z" fill="url(#py)"/>
<path d="M510.0,542.8 L532.5,544.8 L550.0,547.8 L575.0,552.8 L600.0,557.2 L620.0,560.7 L631.0,562.4 L631.0,563.1 L620.0,562.7 L600.0,560.3 L575.0,556.2 L550.0,551.2 L532.5,548.6 L515.0,545.8 L503.0,546.0Z" fill="url(#py)"/>
<path d="M476.0,533.2 L480.0,531.8 L500.0,531.4 L525.0,533.0 L550.0,535.5 L575.0,538.8 L600.0,542.0 L625.0,544.0 L640.0,544.0 L656.5,542.1 L656.5,550.6 L640.0,553.0 L625.0,553.3 L600.0,550.1 L575.0,546.4 L550.0,542.6 L525.0,539.6 L500.0,537.1 L480.0,536.2Z" fill="url(#py)"/>
<path d="M246.3,512.4 L261.0,510.1 L282.0,508.6 L298.8,508.6 L319.8,510.1 L340.8,513.5 L361.7,517.0 L380.0,520.2 L394.0,523.4 L406.0,526.4 L414.4,528.2 L424.0,531.8 L436.0,535.4 L450.0,538.6 L463.0,541.0 L484.0,544.6 L498.7,546.1 L498.7,546.3 L470.0,546.3 L445.0,546.2 L413.0,546.0 L398.0,543.0 L380.0,539.7 L366.0,537.0 L345.0,532.8 L324.0,528.6 L303.0,523.3 L294.6,519.8 L277.8,517.0 L261.0,514.3 L246.3,513.0Z" fill="#ff2a00"/>
<path d="M418.0,521.2 L450.0,521.6 L463.0,521.8 L480.0,523.2 L494.5,525.3 L510.0,528.2 L526.8,532.0 L507.0,532.0 L478.0,532.3 L463.0,529.6 L450.0,527.0 L430.0,523.4Z" fill="#ff2a00"/>
<path d="M414.4,527.6 L430.0,529.4 L450.0,532.4 L463.0,534.8 L484.0,538.3 L500.8,541.4 L516.0,543.6 L534.5,546.3 L516.0,545.2 L505.0,544.2 L484.0,540.9 L463.0,536.9 L450.0,534.1 L430.0,530.9Z" fill="#ff2a00"/>
<path d="M66.5,542.5 C73.4,541.5 94.1,539.2 108.0,536.5 C121.9,533.8 135.5,530.5 150.0,526.0 C164.5,521.5 182.0,514.5 195.0,509.5 C208.0,504.5 217.2,499.9 228.0,496.0 C238.8,492.1 249.7,488.0 260.0,485.8 C270.3,483.6 280.0,483.3 290.0,482.6 C300.0,481.9 308.3,481.4 320.0,481.6 C331.7,481.8 346.7,482.8 360.0,483.6 C373.3,484.4 386.7,485.7 400.0,486.6 C413.3,487.5 426.7,488.5 440.0,489.0 C453.3,489.5 460.0,489.7 480.0,489.8 C500.0,489.9 536.0,489.8 560.0,489.8 C584.0,489.8 613.3,490.0 624.0,490.0" fill="none" stroke="#444" stroke-width="0.7" stroke-dasharray="0.9 0.8"/>
<path d="M648.0,490.5 L656.5,491.0" fill="none" stroke="#444" stroke-width="0.7" stroke-dasharray="0.9 0.8"/>
<path d="M66.5,593.4 C73.7,591.2 95.6,585.0 109.5,580.0 C123.4,575.0 138.2,569.0 150.0,563.5 C161.8,558.0 171.0,552.8 180.0,547.0 C189.0,541.2 198.2,533.3 204.0,529.0 C209.8,524.7 210.7,523.4 215.0,521.0 C219.3,518.6 222.5,516.5 230.0,514.8 C237.5,513.1 247.5,511.6 260.0,510.6 C272.5,509.6 290.0,508.8 305.0,509.0 C320.0,509.2 335.0,510.7 350.0,511.8 C365.0,512.9 381.7,514.3 395.0,515.4 C408.3,516.5 419.2,517.5 430.0,518.4 C440.8,519.3 445.0,519.7 460.0,520.6 C475.0,521.5 500.0,523.4 520.0,524.0 C540.0,524.6 563.2,524.5 580.0,524.2 C596.8,523.9 614.2,522.7 621.0,522.4" fill="none" stroke="#444" stroke-width="0.7" stroke-dasharray="0.9 0.8"/>
<path d="M644.0,521.5 L656.5,520.0" fill="none" stroke="#444" stroke-width="0.7" stroke-dasharray="0.9 0.8"/>
<path d="M66.5,691.7 C72.1,689.9 88.6,686.1 100.0,681.0 C111.4,675.9 124.5,668.2 135.0,661.0 C145.4,653.8 158.1,641.5 162.7,637.6" fill="none" stroke="#444" stroke-width="0.7" stroke-dasharray="0.9 0.8"/>
<path d="M430.0,588.0 C438.3,589.7 461.7,594.0 480.0,598.0 C498.3,602.0 520.0,607.7 540.0,612.0 C560.0,616.3 580.6,620.3 600.0,624.0 C619.4,627.7 647.1,632.3 656.5,634.0" fill="none" stroke="#444" stroke-width="0.7" stroke-dasharray="0.9 0.8"/>
<path d="M66.5,505.6 C75.4,505.0 101.1,504.1 120.0,502.0 C138.9,499.9 164.0,495.5 180.0,493.0 C196.0,490.5 202.7,489.7 216.0,487.0 C229.3,484.3 246.0,479.1 260.0,476.8 C274.0,474.5 287.7,473.9 300.0,473.4 C312.3,472.9 320.0,473.3 334.0,474.0 C348.0,474.7 363.2,476.2 384.0,477.7 C404.8,479.1 439.7,481.5 459.0,482.7 C478.3,483.9 489.0,484.6 500.0,484.6 C511.0,484.7 516.7,483.1 525.0,483.0 C533.3,482.9 541.7,483.1 550.0,483.8 C558.3,484.5 566.7,485.6 575.0,487.0 C583.3,488.4 592.9,490.3 600.0,492.0 C607.1,493.7 613.0,495.5 617.7,497.0 C622.5,498.5 626.1,499.9 628.5,501.2 C630.9,502.5 631.8,503.5 631.8,504.6 C631.8,505.7 630.9,506.8 628.5,508.0 C626.1,509.2 622.5,510.6 617.7,511.8 C613.0,513.0 607.1,514.0 600.0,515.0 C592.9,516.0 583.3,517.0 575.0,517.6 C566.7,518.2 558.3,518.5 550.0,518.8 C541.7,519.1 532.3,519.5 525.0,519.6 C517.7,519.7 521.8,520.1 506.0,519.6 C490.2,519.1 448.5,517.6 430.0,516.6 C411.5,515.6 408.3,514.7 395.0,513.6 C381.7,512.5 365.0,511.1 350.0,510.0 C335.0,508.9 320.0,507.3 305.0,507.0 C290.0,506.7 272.8,507.3 260.0,508.4 C247.2,509.5 237.3,511.0 228.0,513.4 C218.7,515.8 212.0,518.6 204.0,523.0 C196.0,527.4 189.0,534.2 180.0,539.5 C171.0,544.8 162.5,548.8 150.0,554.5 C137.5,560.2 118.9,568.9 105.0,574.0 C91.1,579.1 72.9,583.4 66.5,585.3" fill="none" stroke="#fb66cc" stroke-width="2.3" stroke-dasharray="22 4" stroke-dashoffset="10.5"/>
<path d="M206.6,547.6 L213.4,547.6 M210,544.2 L210,551.0" stroke="#222" stroke-width="1.3" fill="none"/>
<path d="M228.1,540 L234.9,540 M231.5,536.6 L231.5,543.4" stroke="#222" stroke-width="1.3" fill="none"/>
<path d="M250.9,532.6 L257.7,532.6 M254.3,529.2 L254.3,536.0" stroke="#222" stroke-width="1.3" fill="none"/>
<path d="M202.0,564 L208.8,564 M205.4,560.6 L205.4,567.4" stroke="#222" stroke-width="1.3" fill="none"/>
<path d="M223.6,556.6 L230.4,556.6 M227,553.2 L227,560.0" stroke="#222" stroke-width="1.3" fill="none"/>
<path d="M245.2,550.5 L252.0,550.5 M248.6,547.1 L248.6,553.9" stroke="#222" stroke-width="1.3" fill="none"/>
<path d="M276.6,542.4 L283.4,542.4 M280,539.0 L280,545.8" stroke="#222" stroke-width="1.3" fill="none"/>
<path d="M301.6,544.5 L308.4,544.5 M305,541.1 L305,547.9" stroke="#222" stroke-width="1.3" fill="none"/>
<path d="M269.20000000000005,556.5 L276.0,556.5 M272.6,553.1 L272.6,559.9" stroke="#222" stroke-width="1.3" fill="none"/>
<path d="M294.1,559 L300.9,559 M297.5,555.6 L297.5,562.4" stroke="#222" stroke-width="1.3" fill="none"/>
<path d="M336.5,555 C340.7,558 333.7,564 338.1,567" stroke="#222" stroke-width="1.4" fill="none" stroke-linecap="round"/>
<path d="M358.2,559.5 C362.4,562.5 355.4,568.5 359.8,571.5" stroke="#222" stroke-width="1.4" fill="none" stroke-linecap="round"/>
<path d="M374.59999999999997,565.5 C378.79999999999995,568.5 371.79999999999995,574.5 376.2,577.5" stroke="#222" stroke-width="1.4" fill="none" stroke-linecap="round"/>
<path d="M395.0,571.5 C399.2,574.5 392.2,580.5 396.6,583.5" stroke="#222" stroke-width="1.4" fill="none" stroke-linecap="round"/>
<path d="M413.0,579 C417.2,582 410.2,588 414.6,591" stroke="#222" stroke-width="1.4" fill="none" stroke-linecap="round"/>
<path d="M346.7,570 C350.9,573 343.9,579 348.3,582" stroke="#222" stroke-width="1.4" fill="none" stroke-linecap="round"/>
<path d="M365.59999999999997,577.5 C369.79999999999995,580.5 362.79999999999995,586.5 367.2,589.5" stroke="#222" stroke-width="1.4" fill="none" stroke-linecap="round"/>
<path d="M385.2,584.3 C389.4,587.3 382.4,593.3 386.8,596.3" stroke="#222" stroke-width="1.4" fill="none" stroke-linecap="round"/>
<path d="M403.7,589.4 C407.9,592.4 400.9,598.4 405.3,601.4" stroke="#222" stroke-width="1.4" fill="none" stroke-linecap="round"/>
<path d="M421.2,593.3 C425.4,596.3 418.4,602.3 422.8,605.3" stroke="#222" stroke-width="1.4" fill="none" stroke-linecap="round"/>
<path d="M209.0,492.4 L206.0,520.0 L201.0,538.0 L161.0,655.2 L120.5,729.0" fill="none" stroke="#f80808" stroke-width="2.8" stroke-linejoin="round" stroke-linecap="butt"/>
<path d="M180.5,533.5 L162.5,655.0" fill="none" stroke="#f80808" stroke-width="2.8" stroke-linejoin="round" stroke-linecap="butt"/>
<path d="M297.5,513.0 L326.5,575.4" fill="none" stroke="#f80808" stroke-width="2.8" stroke-linejoin="round" stroke-linecap="butt"/>
<path d="M413.5,547.0 L430.0,589.0 L445.0,620.0 L458.0,646.4 L473.0,659.6 L494.4,686.0" fill="none" stroke="#f80808" stroke-width="2.8" stroke-linejoin="round" stroke-linecap="butt"/>
<path d="M497.5,541.0 L541.0,640.0 L564.0,683.3" fill="none" stroke="#f80808" stroke-width="2.8" stroke-linejoin="round" stroke-linecap="butt"/>
<path d="M574.6,541.3 L581.4,620.0 L585.0,656.0" fill="none" stroke="#f80808" stroke-width="2.8" stroke-linejoin="round" stroke-linecap="butt"/>
<path d="M326.5,543.6 L318.8,535.9" stroke="#f80808" stroke-width="1.9" fill="none"/><path d="M312.5,529.5 L321.9,532.9 L315.8,538.9Z" fill="#f80808"/>
<path d="M440.5,583.0 L425.6,557.7" stroke="#f80808" stroke-width="1.9" fill="none"/><path d="M421.0,550.0 L429.3,555.6 L421.9,559.9Z" fill="#f80808"/>
<path d="M459.0,630.0 L444.4,603.9" stroke="#f80808" stroke-width="1.9" fill="none"/><path d="M440.0,596.0 L448.1,601.8 L440.6,606.0Z" fill="#f80808"/>
<path d="M532.0,581.5 L517.4,555.8" stroke="#f80808" stroke-width="1.9" fill="none"/><path d="M513.0,548.0 L521.2,553.7 L513.7,557.9Z" fill="#f80808"/>
<path d="M575.0,600.0 L572.3,574.0" stroke="#f80808" stroke-width="1.9" fill="none"/><path d="M571.4,565.0 L576.6,573.5 L568.0,574.4Z" fill="#f80808"/>
<text x="312.5" y="498" class="sans" font-size="13.4" fill="#111" textLength="137.5" lengthAdjust="spacingAndGlyphs">Overpressure seal (MS)</text>
<text x="311" y="411.6" class="serif" font-size="14.5" fill="#111" textLength="65.5" lengthAdjust="spacingAndGlyphs">Quaternary</text>
<path d="M342.5,419.5 L342.5,432.5" stroke="#222" stroke-width="0.9"/>
<text x="312.5" y="447.6" class="serif" font-size="14.5" fill="#111" textLength="125.5" lengthAdjust="spacingAndGlyphs">Yinggehai Formation</text>
<text x="360.4" y="533.4" class="sans" font-size="9.8" fill="#1a0400" textLength="16" lengthAdjust="spacingAndGlyphs">LS3</text>
<text x="467.5" y="529" class="sans" font-size="9.8" fill="#1a0400" textLength="11.5" lengthAdjust="spacingAndGlyphs">SY</text>
<text x="469" y="542.6" class="sans" font-size="9.8" fill="#1a0400" textLength="15.5" lengthAdjust="spacingAndGlyphs">LS2</text>
<text x="625" y="559.6" class="sans" font-size="10.5" font-style="italic" fill="#222">T60</text>
</g>
<ellipse cx="122.3" cy="531.2" rx="12" ry="6.4" fill="#fff" stroke="#777" stroke-width="0.6"/><text x="114.0" y="534.6" class="serif" font-size="10" font-style="italic" font-weight="bold" fill="#222" textLength="16" lengthAdjust="spacing">T40</text>
<ellipse cx="123" cy="576.6" rx="12" ry="6.4" fill="#fff" stroke="#777" stroke-width="0.6"/><text x="114.7" y="580.0" class="serif" font-size="10" font-style="italic" font-weight="bold" fill="#222" textLength="16" lengthAdjust="spacing">T50</text>
<ellipse cx="127.7" cy="661" rx="12" ry="6.4" fill="#fff" stroke="#777" stroke-width="0.6"/><text x="119.4" y="664.4" class="serif" font-size="10" font-style="italic" font-weight="bold" fill="#222" textLength="16" lengthAdjust="spacing">T60</text>
<ellipse cx="636.2" cy="490.6" rx="12" ry="6.4" fill="#fff" stroke="#777" stroke-width="0.6"/><text x="627.9000000000001" y="494.0" class="serif" font-size="10" font-style="italic" font-weight="bold" fill="#222" textLength="16" lengthAdjust="spacing">T40</text>
<ellipse cx="632.7" cy="522" rx="12" ry="6.4" fill="#fff" stroke="#777" stroke-width="0.6"/><text x="624.4000000000001" y="525.4" class="serif" font-size="10" font-style="italic" font-weight="bold" fill="#222" textLength="16" lengthAdjust="spacing">T50</text>
<ellipse cx="631" cy="598.2" rx="12" ry="6.4" fill="#fff" stroke="#777" stroke-width="0.6"/><text x="622.7" y="601.6" class="serif" font-size="10" font-style="italic" font-weight="bold" fill="#222" textLength="16" lengthAdjust="spacing">T70</text>
<ellipse cx="628" cy="685.3" rx="10" ry="6.4" fill="#fff" stroke="#777" stroke-width="0.6"/><text x="622.7" y="688.6999999999999" class="serif" font-size="10" font-style="italic" font-weight="bold" fill="#222" textLength="10" lengthAdjust="spacing">Tg</text>
<path d="M66.5,735.4 L656.5,735.4 L656.5,373" fill="none" stroke="#707070" stroke-width="1.3"/><path d="M657,373.1 L66.5,373.1 L66.5,736" fill="none" stroke="#303030" stroke-width="1.25"/>
<path d="M58.5,373 L66.5,373" stroke="#333" stroke-width="1.2"/>
<path d="M58.5,463.5 L66.5,463.5" stroke="#333" stroke-width="1.2"/>
<path d="M58.5,552.5 L66.5,552.5" stroke="#333" stroke-width="1.2"/>
<path d="M58.5,644 L66.5,644" stroke="#333" stroke-width="1.2"/>
<text x="25.2" y="381.4" class="serif" font-size="13" fill="#222" textLength="26" lengthAdjust="spacingAndGlyphs">2000</text>
<rect x="18.799999999999997" y="375.79999999999995" width="3.6" height="1.4" fill="#222"/>
<text x="27.4" y="467.6" class="serif" font-size="13" fill="#222" textLength="26" lengthAdjust="spacingAndGlyphs">3000</text>
<rect x="21.0" y="462.0" width="3.6" height="1.4" fill="#222"/>
<text x="27.4" y="556.8" class="serif" font-size="13" fill="#222" textLength="26" lengthAdjust="spacingAndGlyphs">4000</text>
<rect x="21.0" y="551.1999999999999" width="3.6" height="1.4" fill="#222"/>
<text x="27.4" y="648.2" class="serif" font-size="13" fill="#222" textLength="26" lengthAdjust="spacingAndGlyphs">5000</text>
<rect x="21.0" y="642.6" width="3.6" height="1.4" fill="#222"/>
<text y="671" class="serif" font-size="12.5" fill="#222" style="font-family:'Liberation Serif','Noto Serif CJK SC',serif"><tspan x="19.5">（</tspan><tspan x="34.4">m</tspan><tspan x="46.6">）</tspan></text>
<text transform="translate(12,512.5) rotate(-90)" text-anchor="middle" class="sans" font-size="12.4" fill="#111" textLength="56" lengthAdjust="spacingAndGlyphs">Depth(m)</text>
<text x="12.4" y="356" class="sans" font-size="14.8" font-weight="bold" fill="#111">b</text>
<path d="M78.6,362.5 L101,362.5" stroke="#111" stroke-width="2"/><path d="M108.8,362.5 L100,358.8 L100,366.2Z" fill="#111"/>
<text x="112.4" y="367" class="sans" font-size="10.5" fill="#111" textLength="5" lengthAdjust="spacingAndGlyphs">E</text>
<rect x="175.7" y="746.2" width="40.5" height="18" fill="#fff" stroke="#bbb" stroke-width="0.7"/><path d="M192.3,760.5 L198.3,749.5" stroke="#ee3a1a" stroke-width="1"/>
<rect x="256.3" y="746.2" width="40.5" height="18" fill="#808080"/>
<rect x="259.5" y="749.3" width="4.2" height="0.9" fill="#5a5a5a"/>
<rect x="266.9" y="749.3" width="4.2" height="0.9" fill="#5a5a5a"/>
<rect x="274.3" y="749.3" width="4.2" height="0.9" fill="#5a5a5a"/>
<rect x="281.7" y="749.3" width="4.2" height="0.9" fill="#5a5a5a"/>
<rect x="289.1" y="749.3" width="4.2" height="0.9" fill="#5a5a5a"/>
<rect x="259.5" y="752.9" width="4.2" height="0.9" fill="#5a5a5a"/>
<rect x="266.9" y="752.9" width="4.2" height="0.9" fill="#5a5a5a"/>
<rect x="274.3" y="752.9" width="4.2" height="0.9" fill="#5a5a5a"/>
<rect x="281.7" y="752.9" width="4.2" height="0.9" fill="#5a5a5a"/>
<rect x="289.1" y="752.9" width="4.2" height="0.9" fill="#5a5a5a"/>
<rect x="259.5" y="756.5" width="4.2" height="0.9" fill="#5a5a5a"/>
<rect x="266.9" y="756.5" width="4.2" height="0.9" fill="#5a5a5a"/>
<rect x="274.3" y="756.5" width="4.2" height="0.9" fill="#5a5a5a"/>
<rect x="281.7" y="756.5" width="4.2" height="0.9" fill="#5a5a5a"/>
<rect x="289.1" y="756.5" width="4.2" height="0.9" fill="#5a5a5a"/>
<rect x="259.5" y="760.1" width="4.2" height="0.9" fill="#5a5a5a"/>
<rect x="266.9" y="760.1" width="4.2" height="0.9" fill="#5a5a5a"/>
<rect x="274.3" y="760.1" width="4.2" height="0.9" fill="#5a5a5a"/>
<rect x="281.7" y="760.1" width="4.2" height="0.9" fill="#5a5a5a"/>
<rect x="289.1" y="760.1" width="4.2" height="0.9" fill="#5a5a5a"/>
<rect x="336.2" y="746.2" width="40.4" height="18" fill="#ffff80" stroke="#d8d870" stroke-width="0.5"/>
<rect x="339.5" y="750.0" width="0.8" height="0.8" fill="#8a8a40"/>
<rect x="344.1" y="750.0" width="0.8" height="0.8" fill="#8a8a40"/>
<rect x="348.7" y="750.0" width="0.8" height="0.8" fill="#8a8a40"/>
<rect x="353.3" y="750.0" width="0.8" height="0.8" fill="#8a8a40"/>
<rect x="357.9" y="750.0" width="0.8" height="0.8" fill="#8a8a40"/>
<rect x="362.5" y="750.0" width="0.8" height="0.8" fill="#8a8a40"/>
<rect x="367.1" y="750.0" width="0.8" height="0.8" fill="#8a8a40"/>
<rect x="371.7" y="750.0" width="0.8" height="0.8" fill="#8a8a40"/>
<rect x="341.8" y="754.6" width="0.8" height="0.8" fill="#8a8a40"/>
<rect x="346.4" y="754.6" width="0.8" height="0.8" fill="#8a8a40"/>
<rect x="351.0" y="754.6" width="0.8" height="0.8" fill="#8a8a40"/>
<rect x="355.6" y="754.6" width="0.8" height="0.8" fill="#8a8a40"/>
<rect x="360.2" y="754.6" width="0.8" height="0.8" fill="#8a8a40"/>
<rect x="364.8" y="754.6" width="0.8" height="0.8" fill="#8a8a40"/>
<rect x="369.4" y="754.6" width="0.8" height="0.8" fill="#8a8a40"/>
<rect x="374.0" y="754.6" width="0.8" height="0.8" fill="#8a8a40"/>
<rect x="339.5" y="759.2" width="0.8" height="0.8" fill="#8a8a40"/>
<rect x="344.1" y="759.2" width="0.8" height="0.8" fill="#8a8a40"/>
<rect x="348.7" y="759.2" width="0.8" height="0.8" fill="#8a8a40"/>
<rect x="353.3" y="759.2" width="0.8" height="0.8" fill="#8a8a40"/>
<rect x="357.9" y="759.2" width="0.8" height="0.8" fill="#8a8a40"/>
<rect x="362.5" y="759.2" width="0.8" height="0.8" fill="#8a8a40"/>
<rect x="367.1" y="759.2" width="0.8" height="0.8" fill="#8a8a40"/>
<rect x="371.7" y="759.2" width="0.8" height="0.8" fill="#8a8a40"/>
<rect x="416" y="746.2" width="41" height="18.8" fill="#ff2a00"/>
<rect x="501.2" y="746.2" width="40.1" height="18.8" fill="#3232c8"/>
<rect x="578.8" y="748" width="38.6" height="17.7" fill="#fff" stroke="#3a5cc0" stroke-width="1"/>
<path d="M605.4,763.0 L592.2,754.5" stroke="#f80808" stroke-width="1.6" fill="none"/><path d="M586.3,750.7 L593.9,751.8 L590.5,757.2Z" fill="#f80808"/>
<text x="184.4" y="778.4" class="sans" font-size="10.8" fill="#111" textLength="21.3" lengthAdjust="spacingAndGlyphs">fault</text>
<text x="247.3" y="779.9" class="sans" font-size="10.8" fill="#111" textLength="55.9" lengthAdjust="spacingAndGlyphs">Source rock</text>
<text x="331.3" y="778.4" class="sans" font-size="10.8" fill="#111" textLength="48.7" lengthAdjust="spacingAndGlyphs">sandstone</text>
<text x="430" y="778.4" class="sans" font-size="10.8" fill="#111" textLength="15.7" lengthAdjust="spacingAndGlyphs">gas</text>
<text x="506" y="778.4" class="sans" font-size="10.8" fill="#111" textLength="27.8" lengthAdjust="spacingAndGlyphs">water</text>
<text x="578" y="780.2" class="sans" font-size="10.8" fill="#111" textLength="45.8" lengthAdjust="spacingAndGlyphs">migration</text>
</svg></body></html>
